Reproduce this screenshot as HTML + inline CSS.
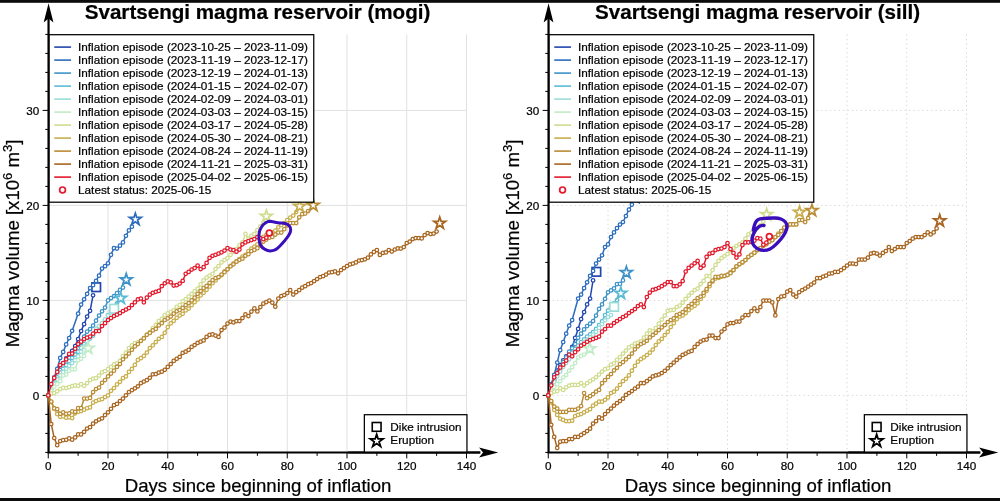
<!DOCTYPE html>
<html lang="en"><head><meta charset="utf-8"><title>Svartsengi magma reservoir</title>
<style>html,body{margin:0;padding:0;background:#fff;}svg{display:block;}text{font-kerning:none;stroke:#000;stroke-width:0.22px;}</style></head>
<body>
<svg width="1000" height="501" viewBox="0 0 1000 501" font-family="'Liberation Sans', sans-serif" fill="#000">
<rect x="0" y="0" width="1000" height="501" fill="#fff"/>
<path d="M108 34.4 V452.5 M167.75 34.4 V452.5 M227.5 34.4 V452.5 M287.25 34.4 V452.5 M347 34.4 V452.5 M406.75 34.4 V452.5 M466.5 34.4 V452.5 M48.25 395.4 H466.5 M48.25 300.4 H466.5 M48.25 205.4 H466.5 M48.25 110.4 H466.5" fill="none" stroke="#e1e1e1" stroke-width="1"/>
<path d="M48.25 452.5 v5.9 M78.12 452.5 v3.4 M108 452.5 v5.9 M137.88 452.5 v3.4 M167.75 452.5 v5.9 M197.62 452.5 v3.4 M227.5 452.5 v5.9 M257.38 452.5 v3.4 M287.25 452.5 v5.9 M317.12 452.5 v3.4 M347 452.5 v5.9 M376.88 452.5 v3.4 M406.75 452.5 v5.9 M436.62 452.5 v3.4 M466.5 452.5 v5.9 M48.85 452.4 h-3.6 M48.85 433.4 h-3.6 M48.85 414.4 h-3.6 M48.85 395.4 h-6.2 M48.85 376.4 h-3.6 M48.85 357.4 h-3.6 M48.85 338.4 h-3.6 M48.85 319.4 h-3.6 M48.85 300.4 h-6.2 M48.85 281.4 h-3.6 M48.85 262.4 h-3.6 M48.85 243.4 h-3.6 M48.85 224.4 h-3.6 M48.85 205.4 h-6.2 M48.85 186.4 h-3.6 M48.85 167.4 h-3.6 M48.85 148.4 h-3.6 M48.85 129.4 h-3.6 M48.85 110.4 h-6.2 M48.85 91.4 h-3.6 M48.85 72.4 h-3.6 M48.85 53.4 h-3.6 M48.85 34.4 h-3.6" fill="none" stroke="#000" stroke-width="1"/>
<path d="M48.55 453.6 V18 M47.45 452.5 H480.25" fill="none" stroke="#000" stroke-width="2.2"/>
<path d="M48.55 3.2 L53.45 22.6 L48.55 18.4 L43.65 22.6 Z" fill="#000"/>
<path d="M498.25 452.5 L479.05 447.5 L483.05 452.5 L479.05 457.5 Z" fill="#000"/>
<g stroke="#2246AF" fill="#fff">
<path d="M48.25 395.4 L51.24 386.85 L54.23 379.25 L57.21 373.55 L60.2 367.85 L63.19 363.1 L66.17 358.35 L69.16 354.55 L72.15 350.75 L75.14 346 L78.12 339.06 L81.11 331.08 L84.1 324.15 L87.09 316.55 L90.07 310.85 L93.06 295.37" fill="none" stroke-width="1.5" stroke-linejoin="round"/>
<g stroke-width="1.25"><circle cx="48.25" cy="395.4" r="1.75"/><circle cx="51.24" cy="386.85" r="1.75"/><circle cx="54.23" cy="379.25" r="1.75"/><circle cx="57.21" cy="373.55" r="1.75"/><circle cx="60.2" cy="367.85" r="1.75"/><circle cx="63.19" cy="363.1" r="1.75"/><circle cx="66.17" cy="358.35" r="1.75"/><circle cx="69.16" cy="354.55" r="1.75"/><circle cx="72.15" cy="350.75" r="1.75"/><circle cx="75.14" cy="346" r="1.75"/><circle cx="78.12" cy="339.06" r="1.75"/><circle cx="81.11" cy="331.08" r="1.75"/><circle cx="84.1" cy="324.15" r="1.75"/><circle cx="87.09" cy="316.55" r="1.75"/><circle cx="90.07" cy="310.85" r="1.75"/><circle cx="93.06" cy="295.37" r="1.75"/></g>
<rect x="91.9" y="282.91" width="8.6" height="8.6" stroke-width="1.7"/>
</g>
<g stroke="#2B6CBD" fill="#fff">
<path d="M48.25 395.4 L51.24 385.9 L54.23 377.35 L57.21 368.99 L60.2 357.97 L63.19 351.98 L66.17 344.38 L69.16 338.02 L72.15 330.8 L78.12 313.7 L81.11 304.58 L84.1 299.26 L87.09 293.75 L90.07 288.05 L93.06 285.2 L96.05 280.92 L99.04 275.7 L102.03 268.57 L105.01 266.2 L108 263.35 L110.99 254.8 L113.97 248.15 L116.96 248.62 L119.95 245.68 L122.94 242.45 L125.92 235.8 L128.91 230.48 L131.9 226.68" fill="none" stroke-width="1.5" stroke-linejoin="round"/>
<g stroke-width="1.25"><circle cx="48.25" cy="395.4" r="1.75"/><circle cx="51.24" cy="385.9" r="1.75"/><circle cx="54.23" cy="377.35" r="1.75"/><circle cx="57.21" cy="368.99" r="1.75"/><circle cx="60.2" cy="357.97" r="1.75"/><circle cx="63.19" cy="351.98" r="1.75"/><circle cx="66.17" cy="344.38" r="1.75"/><circle cx="69.16" cy="338.02" r="1.75"/><circle cx="72.15" cy="330.8" r="1.75"/><circle cx="78.12" cy="313.7" r="1.75"/><circle cx="81.11" cy="304.58" r="1.75"/><circle cx="84.1" cy="299.26" r="1.75"/><circle cx="87.09" cy="293.75" r="1.75"/><circle cx="90.07" cy="288.05" r="1.75"/><circle cx="93.06" cy="285.2" r="1.75"/><circle cx="96.05" cy="280.92" r="1.75"/><circle cx="99.04" cy="275.7" r="1.75"/><circle cx="102.03" cy="268.57" r="1.75"/><circle cx="105.01" cy="266.2" r="1.75"/><circle cx="108" cy="263.35" r="1.75"/><circle cx="110.99" cy="254.8" r="1.75"/><circle cx="113.97" cy="248.15" r="1.75"/><circle cx="116.96" cy="248.62" r="1.75"/><circle cx="119.95" cy="245.68" r="1.75"/><circle cx="122.94" cy="242.45" r="1.75"/><circle cx="125.92" cy="235.8" r="1.75"/><circle cx="128.91" cy="230.48" r="1.75"/><circle cx="131.9" cy="226.68" r="1.75"/></g>
<path d="M135.34 213.2 L136.73 217.48 L141.23 217.48 L137.59 220.13 L138.98 224.42 L135.34 221.77 L131.69 224.42 L133.08 220.13 L129.44 217.48 L133.94 217.48 Z" stroke-width="1.75" stroke-linejoin="miter"/>
</g>
<g stroke="#3E92C8" fill="#fff">
<path d="M48.25 395.4 L51.24 387.8 L54.23 381.15 L57.21 375.45 L60.2 370.22 L63.19 365.95 L66.17 361.67 L69.16 357.88 L72.15 354.55 L75.14 351.22 L78.12 348.28 L81.11 343.15 L84.1 336.5 L87.09 331.56 L90.07 329.09 L93.06 325.57 L96.05 320.73 L99.04 315.6 L102.03 311.32 L105.01 307.52 L108 300.4 L110.99 298.12 L113.97 296.12 L116.96 293.18 L119.95 289.95 L122.94 287.57" fill="none" stroke-width="1.5" stroke-linejoin="round"/>
<g stroke-width="1.25"><circle cx="48.25" cy="395.4" r="1.75"/><circle cx="51.24" cy="387.8" r="1.75"/><circle cx="54.23" cy="381.15" r="1.75"/><circle cx="57.21" cy="375.45" r="1.75"/><circle cx="60.2" cy="370.22" r="1.75"/><circle cx="63.19" cy="365.95" r="1.75"/><circle cx="66.17" cy="361.67" r="1.75"/><circle cx="69.16" cy="357.88" r="1.75"/><circle cx="72.15" cy="354.55" r="1.75"/><circle cx="75.14" cy="351.22" r="1.75"/><circle cx="78.12" cy="348.28" r="1.75"/><circle cx="81.11" cy="343.15" r="1.75"/><circle cx="84.1" cy="336.5" r="1.75"/><circle cx="87.09" cy="331.56" r="1.75"/><circle cx="90.07" cy="329.09" r="1.75"/><circle cx="93.06" cy="325.57" r="1.75"/><circle cx="96.05" cy="320.73" r="1.75"/><circle cx="99.04" cy="315.6" r="1.75"/><circle cx="102.03" cy="311.32" r="1.75"/><circle cx="105.01" cy="307.52" r="1.75"/><circle cx="108" cy="300.4" r="1.75"/><circle cx="110.99" cy="298.12" r="1.75"/><circle cx="113.97" cy="296.12" r="1.75"/><circle cx="116.96" cy="293.18" r="1.75"/><circle cx="119.95" cy="289.95" r="1.75"/><circle cx="122.94" cy="287.57" r="1.75"/></g>
<path d="M126.22 273.52 L127.62 277.81 L132.12 277.81 L128.48 280.46 L129.87 284.74 L126.22 282.09 L122.58 284.74 L123.97 280.46 L120.33 277.81 L124.83 277.81 Z" stroke-width="1.75" stroke-linejoin="miter"/>
</g>
<g stroke="#5BBAD3" fill="#fff">
<path d="M48.25 395.4 L51.24 388.75 L54.23 382.57 L57.21 377.35 L60.2 372.6 L63.19 368.8 L66.17 365 L69.16 361.2 L72.15 357.88 L75.14 354.55 L78.12 351.7 L81.11 347.9 L84.1 344.1 L87.09 341.25 L90.07 338.4 L93.06 335.55 L96.05 330.8 L99.04 327 L102.03 324.15 L105.01 320.06 L108 315.12 L110.99 310.85 L113.97 307.05 L116.96 303.25" fill="none" stroke-width="1.5" stroke-linejoin="round"/>
<g stroke-width="1.25"><circle cx="48.25" cy="395.4" r="1.75"/><circle cx="51.24" cy="388.75" r="1.75"/><circle cx="54.23" cy="382.57" r="1.75"/><circle cx="57.21" cy="377.35" r="1.75"/><circle cx="60.2" cy="372.6" r="1.75"/><circle cx="63.19" cy="368.8" r="1.75"/><circle cx="66.17" cy="365" r="1.75"/><circle cx="69.16" cy="361.2" r="1.75"/><circle cx="72.15" cy="357.88" r="1.75"/><circle cx="75.14" cy="354.55" r="1.75"/><circle cx="78.12" cy="351.7" r="1.75"/><circle cx="81.11" cy="347.9" r="1.75"/><circle cx="84.1" cy="344.1" r="1.75"/><circle cx="87.09" cy="341.25" r="1.75"/><circle cx="90.07" cy="338.4" r="1.75"/><circle cx="93.06" cy="335.55" r="1.75"/><circle cx="96.05" cy="330.8" r="1.75"/><circle cx="99.04" cy="327" r="1.75"/><circle cx="102.03" cy="324.15" r="1.75"/><circle cx="105.01" cy="320.06" r="1.75"/><circle cx="108" cy="315.12" r="1.75"/><circle cx="110.99" cy="310.85" r="1.75"/><circle cx="113.97" cy="307.05" r="1.75"/><circle cx="116.96" cy="303.25" r="1.75"/></g>
<path d="M120.7 292.05 L122.09 296.33 L126.59 296.33 L122.95 298.98 L124.34 303.27 L120.7 300.62 L117.05 303.27 L118.44 298.98 L114.8 296.33 L119.3 296.33 Z" stroke-width="1.75" stroke-linejoin="miter"/>
</g>
<g stroke="#9ADDD9" fill="#fff">
<path d="M48.25 395.4 L51.24 389.7 L54.23 384 L57.21 379.25 L60.2 375.45 L63.19 372.03 L66.17 368.8 L69.16 365.95 L72.15 363.1 L75.14 360.25 L78.12 356.45 L81.11 351.7 L84.1 346.95 L87.09 341.25 L90.07 337.83 L93.06 334.6 L96.05 328.9 L99.04 326.05 L102.03 323.2 L105.01 319.4 L108 315.6 L110.99 312.27" fill="none" stroke-width="1.5" stroke-linejoin="round"/>
<g stroke-width="1.25"><circle cx="48.25" cy="395.4" r="1.75"/><circle cx="51.24" cy="389.7" r="1.75"/><circle cx="54.23" cy="384" r="1.75"/><circle cx="57.21" cy="379.25" r="1.75"/><circle cx="60.2" cy="375.45" r="1.75"/><circle cx="63.19" cy="372.03" r="1.75"/><circle cx="66.17" cy="368.8" r="1.75"/><circle cx="69.16" cy="365.95" r="1.75"/><circle cx="72.15" cy="363.1" r="1.75"/><circle cx="75.14" cy="360.25" r="1.75"/><circle cx="78.12" cy="356.45" r="1.75"/><circle cx="81.11" cy="351.7" r="1.75"/><circle cx="84.1" cy="346.95" r="1.75"/><circle cx="87.09" cy="341.25" r="1.75"/><circle cx="90.07" cy="337.83" r="1.75"/><circle cx="93.06" cy="334.6" r="1.75"/><circle cx="96.05" cy="328.9" r="1.75"/><circle cx="99.04" cy="326.05" r="1.75"/><circle cx="102.03" cy="323.2" r="1.75"/><circle cx="105.01" cy="319.4" r="1.75"/><circle cx="108" cy="315.6" r="1.75"/><circle cx="110.99" cy="312.27" r="1.75"/></g>
<rect x="109.82" y="304.47" width="8.6" height="8.6" stroke-width="1.7"/>
</g>
<g stroke="#C2EBC8" fill="#fff">
<path d="M48.25 395.4 L51.24 390.65 L54.23 386.85 L57.21 384 L60.2 381.15 L63.19 375.45 L66.17 374.5 L69.16 370.7 L72.15 369.27 L75.14 369.27 L78.12 360.25 L81.11 358.82 L84.1 355.97" fill="none" stroke-width="1.5" stroke-linejoin="round"/>
<g stroke-width="1.25"><circle cx="48.25" cy="395.4" r="1.75"/><circle cx="51.24" cy="390.65" r="1.75"/><circle cx="54.23" cy="386.85" r="1.75"/><circle cx="57.21" cy="384" r="1.75"/><circle cx="60.2" cy="381.15" r="1.75"/><circle cx="63.19" cy="375.45" r="1.75"/><circle cx="66.17" cy="374.5" r="1.75"/><circle cx="69.16" cy="370.7" r="1.75"/><circle cx="72.15" cy="369.27" r="1.75"/><circle cx="75.14" cy="369.27" r="1.75"/><circle cx="78.12" cy="360.25" r="1.75"/><circle cx="81.11" cy="358.82" r="1.75"/><circle cx="84.1" cy="355.97" r="1.75"/></g>
<path d="M88.13 342.11 L89.53 346.4 L94.03 346.4 L90.39 349.05 L91.78 353.33 L88.13 350.68 L84.49 353.33 L85.88 349.05 L82.24 346.4 L86.74 346.4 Z" stroke-width="1.75" stroke-linejoin="miter"/>
</g>
<g stroke="#D0DC8F" fill="#fff">
<path d="M48.25 395.4 L51.24 393.5 L54.23 393.12 L57.21 391.31 L60.2 389.03 L63.19 387.8 L66.17 388.08 L69.16 387.23 L72.15 386 L75.14 385.42 L78.12 385.8 L81.11 384.19 L84.1 385.8 L87.09 383.05 L90.07 380.01 L93.06 378.58 L96.05 378.2 L99.04 375.54 L102.03 372.31 L105.01 371.08 L108 369.19 L110.99 366.9 L113.97 364.43 L116.96 363.37 L119.95 360.91 L122.94 356.05 L125.92 352.74 L128.91 348 L131.9 345.32 L134.89 343.15 L137.88 342.3 L140.86 340.96 L143.85 337.88 L146.84 334.54 L149.82 332.03 L152.81 328.14 L155.8 324.78 L158.79 321.01 L161.77 318.82 L164.76 315.03 L167.75 313.37 L170.74 311.8 L173.72 310.43 L176.71 306.8 L179.7 305.15 L182.69 301.3 L185.67 299.07 L188.66 296.53 L191.65 293.92 L194.64 291.38 L197.62 288.52 L200.61 284.31 L203.6 280.39 L206.59 277.66 L209.57 275.51 L212.56 273.8 L215.55 269.05 L218.54 266.2 L221.52 262.4 L224.51 260.02 L227.5 258.12 L230.49 254.8 L233.47 251.95 L236.46 249.1 L239.45 245.3 L242.44 242.45 L245.42 233.9 L248.41 238.65 L251.4 235.8 L254.39 233.9 L257.38 230.1 L260.36 226.3 L263.35 222.5" fill="none" stroke-width="1.5" stroke-linejoin="round"/>
<g stroke-width="1.25"><circle cx="48.25" cy="395.4" r="1.75"/><circle cx="51.24" cy="393.5" r="1.75"/><circle cx="54.23" cy="393.12" r="1.75"/><circle cx="57.21" cy="391.31" r="1.75"/><circle cx="60.2" cy="389.03" r="1.75"/><circle cx="63.19" cy="387.8" r="1.75"/><circle cx="66.17" cy="388.08" r="1.75"/><circle cx="69.16" cy="387.23" r="1.75"/><circle cx="72.15" cy="386" r="1.75"/><circle cx="75.14" cy="385.42" r="1.75"/><circle cx="78.12" cy="385.8" r="1.75"/><circle cx="81.11" cy="384.19" r="1.75"/><circle cx="84.1" cy="385.8" r="1.75"/><circle cx="87.09" cy="383.05" r="1.75"/><circle cx="90.07" cy="380.01" r="1.75"/><circle cx="93.06" cy="378.58" r="1.75"/><circle cx="96.05" cy="378.2" r="1.75"/><circle cx="99.04" cy="375.54" r="1.75"/><circle cx="102.03" cy="372.31" r="1.75"/><circle cx="105.01" cy="371.08" r="1.75"/><circle cx="108" cy="369.19" r="1.75"/><circle cx="110.99" cy="366.9" r="1.75"/><circle cx="113.97" cy="364.43" r="1.75"/><circle cx="116.96" cy="363.37" r="1.75"/><circle cx="119.95" cy="360.91" r="1.75"/><circle cx="122.94" cy="356.05" r="1.75"/><circle cx="125.92" cy="352.74" r="1.75"/><circle cx="128.91" cy="348" r="1.75"/><circle cx="131.9" cy="345.32" r="1.75"/><circle cx="134.89" cy="343.15" r="1.75"/><circle cx="137.88" cy="342.3" r="1.75"/><circle cx="140.86" cy="340.96" r="1.75"/><circle cx="143.85" cy="337.88" r="1.75"/><circle cx="146.84" cy="334.54" r="1.75"/><circle cx="149.82" cy="332.03" r="1.75"/><circle cx="152.81" cy="328.14" r="1.75"/><circle cx="155.8" cy="324.78" r="1.75"/><circle cx="158.79" cy="321.01" r="1.75"/><circle cx="161.77" cy="318.82" r="1.75"/><circle cx="164.76" cy="315.03" r="1.75"/><circle cx="167.75" cy="313.37" r="1.75"/><circle cx="170.74" cy="311.8" r="1.75"/><circle cx="173.72" cy="310.43" r="1.75"/><circle cx="176.71" cy="306.8" r="1.75"/><circle cx="179.7" cy="305.15" r="1.75"/><circle cx="182.69" cy="301.3" r="1.75"/><circle cx="185.67" cy="299.07" r="1.75"/><circle cx="188.66" cy="296.53" r="1.75"/><circle cx="191.65" cy="293.92" r="1.75"/><circle cx="194.64" cy="291.38" r="1.75"/><circle cx="197.62" cy="288.52" r="1.75"/><circle cx="200.61" cy="284.31" r="1.75"/><circle cx="203.6" cy="280.39" r="1.75"/><circle cx="206.59" cy="277.66" r="1.75"/><circle cx="209.57" cy="275.51" r="1.75"/><circle cx="212.56" cy="273.8" r="1.75"/><circle cx="215.55" cy="269.05" r="1.75"/><circle cx="218.54" cy="266.2" r="1.75"/><circle cx="221.52" cy="262.4" r="1.75"/><circle cx="224.51" cy="260.02" r="1.75"/><circle cx="227.5" cy="258.12" r="1.75"/><circle cx="230.49" cy="254.8" r="1.75"/><circle cx="233.47" cy="251.95" r="1.75"/><circle cx="236.46" cy="249.1" r="1.75"/><circle cx="239.45" cy="245.3" r="1.75"/><circle cx="242.44" cy="242.45" r="1.75"/><circle cx="245.42" cy="233.9" r="1.75"/><circle cx="248.41" cy="238.65" r="1.75"/><circle cx="251.4" cy="235.8" r="1.75"/><circle cx="254.39" cy="233.9" r="1.75"/><circle cx="257.38" cy="230.1" r="1.75"/><circle cx="260.36" cy="226.3" r="1.75"/><circle cx="263.35" cy="222.5" r="1.75"/></g>
<path d="M266.34 210.06 L267.73 214.35 L272.23 214.35 L268.59 217 L269.98 221.28 L266.34 218.63 L262.69 221.28 L264.09 217 L260.44 214.35 L264.95 214.35 Z" stroke-width="1.75" stroke-linejoin="miter"/>
</g>
<g stroke="#C8AE4D" fill="#fff">
<path d="M48.25 395.4 L51.24 402.05 L54.23 408.7 L57.21 414.11 L60.2 416.87 L63.19 416.49 L66.17 417.72 L69.16 417.25 L72.15 418.1 L75.14 413.26 L78.12 411.83 L81.11 411.07 L84.1 409.65 L87.09 408.22 L90.07 407.46 L93.06 402.52 L96.05 401 L99.04 399.77 L102.03 399.2 L105.01 397.11 L108 395.4 L110.99 390.84 L113.97 388.08 L116.96 384.47 L119.95 381.81 L122.94 378.2 L125.92 376.4 L128.91 371.93 L131.9 368.89 L134.89 364.99 L137.88 359.96 L140.86 358.22 L143.85 355.97 L146.84 352.51 L149.82 348 L152.81 345.33 L155.8 342.01 L158.79 338.82 L161.77 336.97 L164.76 332.81 L167.75 327 L170.74 323.42 L173.72 320.82 L176.71 317.87 L179.7 315.6 L182.69 313.79 L185.67 310.38 L188.66 308.56 L191.65 305.15 L194.64 302.2 L197.62 299.45 L200.61 295.44 L203.6 292.8 L206.59 289.85 L209.57 286.62 L212.56 283.15 L215.55 280.45 L218.54 277.27 L221.52 275.22 L224.51 271.3 L227.5 269.05 L230.49 265.96 L233.47 263.35 L236.46 261.43 L239.45 259.07 L242.44 256.51 L245.42 254.8 L248.41 251.09 L251.4 248.7 L254.39 246.63 L257.38 244.35 L260.36 240.6 L263.35 236.75 L266.34 234.75 L269.32 233.9 L272.31 232.37 L275.3 230.57 L278.29 227.25 L281.27 224.91 L284.26 223.07 L287.25 220.03 L290.24 217.56 L293.23 215.56 L296.21 212.05" fill="none" stroke-width="1.5" stroke-linejoin="round"/>
<g stroke-width="1.25"><circle cx="48.25" cy="395.4" r="1.75"/><circle cx="51.24" cy="402.05" r="1.75"/><circle cx="54.23" cy="408.7" r="1.75"/><circle cx="57.21" cy="414.11" r="1.75"/><circle cx="60.2" cy="416.87" r="1.75"/><circle cx="63.19" cy="416.49" r="1.75"/><circle cx="66.17" cy="417.72" r="1.75"/><circle cx="69.16" cy="417.25" r="1.75"/><circle cx="72.15" cy="418.1" r="1.75"/><circle cx="75.14" cy="413.26" r="1.75"/><circle cx="78.12" cy="411.83" r="1.75"/><circle cx="81.11" cy="411.07" r="1.75"/><circle cx="84.1" cy="409.65" r="1.75"/><circle cx="87.09" cy="408.22" r="1.75"/><circle cx="90.07" cy="407.46" r="1.75"/><circle cx="93.06" cy="402.52" r="1.75"/><circle cx="96.05" cy="401" r="1.75"/><circle cx="99.04" cy="399.77" r="1.75"/><circle cx="102.03" cy="399.2" r="1.75"/><circle cx="105.01" cy="397.11" r="1.75"/><circle cx="108" cy="395.4" r="1.75"/><circle cx="110.99" cy="390.84" r="1.75"/><circle cx="113.97" cy="388.08" r="1.75"/><circle cx="116.96" cy="384.47" r="1.75"/><circle cx="119.95" cy="381.81" r="1.75"/><circle cx="122.94" cy="378.2" r="1.75"/><circle cx="125.92" cy="376.4" r="1.75"/><circle cx="128.91" cy="371.93" r="1.75"/><circle cx="131.9" cy="368.89" r="1.75"/><circle cx="134.89" cy="364.99" r="1.75"/><circle cx="137.88" cy="359.96" r="1.75"/><circle cx="140.86" cy="358.22" r="1.75"/><circle cx="143.85" cy="355.97" r="1.75"/><circle cx="146.84" cy="352.51" r="1.75"/><circle cx="149.82" cy="348" r="1.75"/><circle cx="152.81" cy="345.33" r="1.75"/><circle cx="155.8" cy="342.01" r="1.75"/><circle cx="158.79" cy="338.82" r="1.75"/><circle cx="161.77" cy="336.97" r="1.75"/><circle cx="164.76" cy="332.81" r="1.75"/><circle cx="167.75" cy="327" r="1.75"/><circle cx="170.74" cy="323.42" r="1.75"/><circle cx="173.72" cy="320.82" r="1.75"/><circle cx="176.71" cy="317.87" r="1.75"/><circle cx="179.7" cy="315.6" r="1.75"/><circle cx="182.69" cy="313.79" r="1.75"/><circle cx="185.67" cy="310.38" r="1.75"/><circle cx="188.66" cy="308.56" r="1.75"/><circle cx="191.65" cy="305.15" r="1.75"/><circle cx="194.64" cy="302.2" r="1.75"/><circle cx="197.62" cy="299.45" r="1.75"/><circle cx="200.61" cy="295.44" r="1.75"/><circle cx="203.6" cy="292.8" r="1.75"/><circle cx="206.59" cy="289.85" r="1.75"/><circle cx="209.57" cy="286.62" r="1.75"/><circle cx="212.56" cy="283.15" r="1.75"/><circle cx="215.55" cy="280.45" r="1.75"/><circle cx="218.54" cy="277.27" r="1.75"/><circle cx="221.52" cy="275.22" r="1.75"/><circle cx="224.51" cy="271.3" r="1.75"/><circle cx="227.5" cy="269.05" r="1.75"/><circle cx="230.49" cy="265.96" r="1.75"/><circle cx="233.47" cy="263.35" r="1.75"/><circle cx="236.46" cy="261.43" r="1.75"/><circle cx="239.45" cy="259.07" r="1.75"/><circle cx="242.44" cy="256.51" r="1.75"/><circle cx="245.42" cy="254.8" r="1.75"/><circle cx="248.41" cy="251.09" r="1.75"/><circle cx="251.4" cy="248.7" r="1.75"/><circle cx="254.39" cy="246.63" r="1.75"/><circle cx="257.38" cy="244.35" r="1.75"/><circle cx="260.36" cy="240.6" r="1.75"/><circle cx="263.35" cy="236.75" r="1.75"/><circle cx="266.34" cy="234.75" r="1.75"/><circle cx="269.32" cy="233.9" r="1.75"/><circle cx="272.31" cy="232.37" r="1.75"/><circle cx="275.3" cy="230.57" r="1.75"/><circle cx="278.29" cy="227.25" r="1.75"/><circle cx="281.27" cy="224.91" r="1.75"/><circle cx="284.26" cy="223.07" r="1.75"/><circle cx="287.25" cy="220.03" r="1.75"/><circle cx="290.24" cy="217.56" r="1.75"/><circle cx="293.23" cy="215.56" r="1.75"/><circle cx="296.21" cy="212.05" r="1.75"/></g>
<path d="M299.65 200.19 L301.04 204.47 L305.54 204.47 L301.9 207.12 L303.29 211.4 L299.65 208.75 L296 211.4 L297.4 207.12 L293.75 204.47 L298.26 204.47 Z" stroke-width="1.75" stroke-linejoin="miter"/>
</g>
<g stroke="#B98C36" fill="#fff">
<path d="M48.25 395.4 L51.24 401.57 L54.23 408.41 L57.21 409.08 L60.2 413.83 L63.19 412.31 L66.17 413.83 L69.16 413.26 L72.15 411.45 L75.14 411.83 L78.12 408.22 L81.11 408.22 L84.1 398.53 L87.09 398.53 L90.07 397.96 L93.06 392.07 L96.05 389.03 L99.04 387.61 L102.03 382.76 L105.01 380.01 L108 376.4 L110.99 373.55 L113.97 370.7 L116.96 366.9 L119.95 364.1 L122.94 359.32 L125.92 356.45 L128.91 353.55 L131.9 349.8 L134.89 346.44 L137.88 344.1 L140.86 340.78 L143.85 338.4 L146.84 334.87 L149.82 332.98 L152.81 330.41 L155.8 328.9 L158.79 325.42 L161.77 323.2 L164.76 320.02 L167.75 318.45 L170.74 316.55 L173.72 313.7 L176.71 311.34 L179.7 310.09 L182.69 307.92 L185.67 305.15 L188.66 303.1 L191.65 300.4 L194.64 297.71 L197.62 293.75 L200.61 291.04 L203.6 288.05 L206.59 285.99 L209.57 282.82 L212.56 280.16 L215.55 278.07 L218.54 277.04 L221.52 274.56 L224.51 272.13 L227.5 269.33 L230.49 266.32 L233.47 264.3 L236.46 261.67 L239.45 259.83 L242.44 258.64 L245.42 255.75 L248.41 254.14 L251.4 251.09 L254.39 249.9 L257.38 248.15 L260.36 245.58 L263.35 241.5 L266.34 239.51 L269.32 237.7 L272.31 236.91 L275.3 234.56 L278.29 232.57 L281.27 232.57 L284.26 229.15 L287.25 225.35 L290.24 223.07 L293.23 223.07 L296.21 223.07 L299.2 217.27 L302.19 214.14 L305.18 213.57 L308.16 211.1" fill="none" stroke-width="1.5" stroke-linejoin="round"/>
<g stroke-width="1.25"><circle cx="48.25" cy="395.4" r="1.75"/><circle cx="51.24" cy="401.57" r="1.75"/><circle cx="54.23" cy="408.41" r="1.75"/><circle cx="57.21" cy="409.08" r="1.75"/><circle cx="60.2" cy="413.83" r="1.75"/><circle cx="63.19" cy="412.31" r="1.75"/><circle cx="66.17" cy="413.83" r="1.75"/><circle cx="69.16" cy="413.26" r="1.75"/><circle cx="72.15" cy="411.45" r="1.75"/><circle cx="75.14" cy="411.83" r="1.75"/><circle cx="78.12" cy="408.22" r="1.75"/><circle cx="81.11" cy="408.22" r="1.75"/><circle cx="84.1" cy="398.53" r="1.75"/><circle cx="87.09" cy="398.53" r="1.75"/><circle cx="90.07" cy="397.96" r="1.75"/><circle cx="93.06" cy="392.07" r="1.75"/><circle cx="96.05" cy="389.03" r="1.75"/><circle cx="99.04" cy="387.61" r="1.75"/><circle cx="102.03" cy="382.76" r="1.75"/><circle cx="105.01" cy="380.01" r="1.75"/><circle cx="108" cy="376.4" r="1.75"/><circle cx="110.99" cy="373.55" r="1.75"/><circle cx="113.97" cy="370.7" r="1.75"/><circle cx="116.96" cy="366.9" r="1.75"/><circle cx="119.95" cy="364.1" r="1.75"/><circle cx="122.94" cy="359.32" r="1.75"/><circle cx="125.92" cy="356.45" r="1.75"/><circle cx="128.91" cy="353.55" r="1.75"/><circle cx="131.9" cy="349.8" r="1.75"/><circle cx="134.89" cy="346.44" r="1.75"/><circle cx="137.88" cy="344.1" r="1.75"/><circle cx="140.86" cy="340.78" r="1.75"/><circle cx="143.85" cy="338.4" r="1.75"/><circle cx="146.84" cy="334.87" r="1.75"/><circle cx="149.82" cy="332.98" r="1.75"/><circle cx="152.81" cy="330.41" r="1.75"/><circle cx="155.8" cy="328.9" r="1.75"/><circle cx="158.79" cy="325.42" r="1.75"/><circle cx="161.77" cy="323.2" r="1.75"/><circle cx="164.76" cy="320.02" r="1.75"/><circle cx="167.75" cy="318.45" r="1.75"/><circle cx="170.74" cy="316.55" r="1.75"/><circle cx="173.72" cy="313.7" r="1.75"/><circle cx="176.71" cy="311.34" r="1.75"/><circle cx="179.7" cy="310.09" r="1.75"/><circle cx="182.69" cy="307.92" r="1.75"/><circle cx="185.67" cy="305.15" r="1.75"/><circle cx="188.66" cy="303.1" r="1.75"/><circle cx="191.65" cy="300.4" r="1.75"/><circle cx="194.64" cy="297.71" r="1.75"/><circle cx="197.62" cy="293.75" r="1.75"/><circle cx="200.61" cy="291.04" r="1.75"/><circle cx="203.6" cy="288.05" r="1.75"/><circle cx="206.59" cy="285.99" r="1.75"/><circle cx="209.57" cy="282.82" r="1.75"/><circle cx="212.56" cy="280.16" r="1.75"/><circle cx="215.55" cy="278.07" r="1.75"/><circle cx="218.54" cy="277.04" r="1.75"/><circle cx="221.52" cy="274.56" r="1.75"/><circle cx="224.51" cy="272.13" r="1.75"/><circle cx="227.5" cy="269.33" r="1.75"/><circle cx="230.49" cy="266.32" r="1.75"/><circle cx="233.47" cy="264.3" r="1.75"/><circle cx="236.46" cy="261.67" r="1.75"/><circle cx="239.45" cy="259.83" r="1.75"/><circle cx="242.44" cy="258.64" r="1.75"/><circle cx="245.42" cy="255.75" r="1.75"/><circle cx="248.41" cy="254.14" r="1.75"/><circle cx="251.4" cy="251.09" r="1.75"/><circle cx="254.39" cy="249.9" r="1.75"/><circle cx="257.38" cy="248.15" r="1.75"/><circle cx="260.36" cy="245.58" r="1.75"/><circle cx="263.35" cy="241.5" r="1.75"/><circle cx="266.34" cy="239.51" r="1.75"/><circle cx="269.32" cy="237.7" r="1.75"/><circle cx="272.31" cy="236.91" r="1.75"/><circle cx="275.3" cy="234.56" r="1.75"/><circle cx="278.29" cy="232.57" r="1.75"/><circle cx="281.27" cy="232.57" r="1.75"/><circle cx="284.26" cy="229.15" r="1.75"/><circle cx="287.25" cy="225.35" r="1.75"/><circle cx="290.24" cy="223.07" r="1.75"/><circle cx="293.23" cy="223.07" r="1.75"/><circle cx="296.21" cy="223.07" r="1.75"/><circle cx="299.2" cy="217.27" r="1.75"/><circle cx="302.19" cy="214.14" r="1.75"/><circle cx="305.18" cy="213.57" r="1.75"/><circle cx="308.16" cy="211.1" r="1.75"/></g>
<path d="M313.24 199.14 L314.63 203.42 L319.14 203.42 L315.49 206.07 L316.89 210.36 L313.24 207.71 L309.6 210.36 L310.99 206.07 L307.34 203.42 L311.85 203.42 Z" stroke-width="1.75" stroke-linejoin="miter"/>
</g>
<g stroke="#A8651F" fill="#fff">
<path d="M48.25 395.4 L51.24 424 L54.23 438.05 L57.21 445.18 L60.2 441.09 L63.19 440.14 L66.17 439.86 L69.16 438.44 L72.15 439.67 L75.14 437.48 L78.12 434.44 L81.11 434.44 L84.1 431.78 L87.09 428.55 L90.07 427.22 L93.06 423.71 L96.05 421.33 L99.04 419.53 L102.03 418.29 L105.01 415.06 L108 412.31 L110.99 408.79 L113.97 405.19 L116.96 403.95 L119.95 401 L122.94 398.53 L125.92 395.3 L128.91 392.07 L131.9 390.17 L134.89 388.27 L137.88 386.28 L140.86 383.24 L143.85 381.62 L146.84 380.2 L149.82 377.82 L152.81 374.31 L155.8 374.02 L158.79 372.6 L161.77 371.65 L164.76 369.75 L167.75 366.9 L170.74 364.05 L173.72 360.91 L176.71 358.82 L179.7 356.92 L182.69 352.94 L185.67 351.7 L188.66 349.99 L191.65 346.95 L194.64 345.05 L197.62 342.96 L200.61 341.72 L203.6 340.39 L206.59 336.97 L209.57 334.98 L212.56 334.41 L215.55 335.55 L218.54 336.97 L221.52 330.04 L224.51 327.57 L227.5 323.58 L230.49 321.58 L233.47 322.44 L236.46 321.01 L239.45 321.01 L242.44 318.07 L245.42 314.46 L248.41 316.07 L251.4 311.61 L254.39 308.47 L257.38 311.42 L260.36 307.05 L263.35 303.63 L266.34 302.11 L269.32 300.5 L272.31 302.68 L275.3 306.67 L278.29 298.5 L281.27 296.12 L284.26 295.08 L287.25 293.08 L290.24 290.14 L293.23 294.51 L296.21 292.13 L299.2 290.14 L302.19 287.67 L305.18 286.15 L308.16 284.15 L311.15 283.11 L314.14 281.12 L317.12 279.12 L320.11 277.12 L323.1 276.17 L326.09 274.56 L329.07 272.56 L332.06 272.18 L335.05 271.42 L338.04 273.32 L341.02 270 L344.01 268 L347 266.01 L349.99 264.39 L352.97 263.54 L355.96 262.4 L358.95 260.59 L361.94 260.02 L364.92 259.36 L367.91 257.65 L370.9 254.42 L373.89 251.95 L376.88 250.05 L379.86 254.99 L382.85 252.99 L385.84 252.42 L388.82 250.05 L391.81 251.57 L394.8 249.57 L397.79 248.43 L400.77 248.62 L403.76 247.01 L406.75 243.02 L409.74 241.59 L412.72 239.03 L415.71 238.08 L418.7 238.08 L421.69 238.46 L424.67 235.04 L427.66 233.04 L430.65 234.09 L433.64 233.61 L436.62 231.62" fill="none" stroke-width="1.5" stroke-linejoin="round"/>
<g stroke-width="1.25"><circle cx="48.25" cy="395.4" r="1.75"/><circle cx="51.24" cy="424" r="1.75"/><circle cx="54.23" cy="438.05" r="1.75"/><circle cx="57.21" cy="445.18" r="1.75"/><circle cx="60.2" cy="441.09" r="1.75"/><circle cx="63.19" cy="440.14" r="1.75"/><circle cx="66.17" cy="439.86" r="1.75"/><circle cx="69.16" cy="438.44" r="1.75"/><circle cx="72.15" cy="439.67" r="1.75"/><circle cx="75.14" cy="437.48" r="1.75"/><circle cx="78.12" cy="434.44" r="1.75"/><circle cx="81.11" cy="434.44" r="1.75"/><circle cx="84.1" cy="431.78" r="1.75"/><circle cx="87.09" cy="428.55" r="1.75"/><circle cx="90.07" cy="427.22" r="1.75"/><circle cx="93.06" cy="423.71" r="1.75"/><circle cx="96.05" cy="421.33" r="1.75"/><circle cx="99.04" cy="419.53" r="1.75"/><circle cx="102.03" cy="418.29" r="1.75"/><circle cx="105.01" cy="415.06" r="1.75"/><circle cx="108" cy="412.31" r="1.75"/><circle cx="110.99" cy="408.79" r="1.75"/><circle cx="113.97" cy="405.19" r="1.75"/><circle cx="116.96" cy="403.95" r="1.75"/><circle cx="119.95" cy="401" r="1.75"/><circle cx="122.94" cy="398.53" r="1.75"/><circle cx="125.92" cy="395.3" r="1.75"/><circle cx="128.91" cy="392.07" r="1.75"/><circle cx="131.9" cy="390.17" r="1.75"/><circle cx="134.89" cy="388.27" r="1.75"/><circle cx="137.88" cy="386.28" r="1.75"/><circle cx="140.86" cy="383.24" r="1.75"/><circle cx="143.85" cy="381.62" r="1.75"/><circle cx="146.84" cy="380.2" r="1.75"/><circle cx="149.82" cy="377.82" r="1.75"/><circle cx="152.81" cy="374.31" r="1.75"/><circle cx="155.8" cy="374.02" r="1.75"/><circle cx="158.79" cy="372.6" r="1.75"/><circle cx="161.77" cy="371.65" r="1.75"/><circle cx="164.76" cy="369.75" r="1.75"/><circle cx="167.75" cy="366.9" r="1.75"/><circle cx="170.74" cy="364.05" r="1.75"/><circle cx="173.72" cy="360.91" r="1.75"/><circle cx="176.71" cy="358.82" r="1.75"/><circle cx="179.7" cy="356.92" r="1.75"/><circle cx="182.69" cy="352.94" r="1.75"/><circle cx="185.67" cy="351.7" r="1.75"/><circle cx="188.66" cy="349.99" r="1.75"/><circle cx="191.65" cy="346.95" r="1.75"/><circle cx="194.64" cy="345.05" r="1.75"/><circle cx="197.62" cy="342.96" r="1.75"/><circle cx="200.61" cy="341.72" r="1.75"/><circle cx="203.6" cy="340.39" r="1.75"/><circle cx="206.59" cy="336.97" r="1.75"/><circle cx="209.57" cy="334.98" r="1.75"/><circle cx="212.56" cy="334.41" r="1.75"/><circle cx="215.55" cy="335.55" r="1.75"/><circle cx="218.54" cy="336.97" r="1.75"/><circle cx="221.52" cy="330.04" r="1.75"/><circle cx="224.51" cy="327.57" r="1.75"/><circle cx="227.5" cy="323.58" r="1.75"/><circle cx="230.49" cy="321.58" r="1.75"/><circle cx="233.47" cy="322.44" r="1.75"/><circle cx="236.46" cy="321.01" r="1.75"/><circle cx="239.45" cy="321.01" r="1.75"/><circle cx="242.44" cy="318.07" r="1.75"/><circle cx="245.42" cy="314.46" r="1.75"/><circle cx="248.41" cy="316.07" r="1.75"/><circle cx="251.4" cy="311.61" r="1.75"/><circle cx="254.39" cy="308.47" r="1.75"/><circle cx="257.38" cy="311.42" r="1.75"/><circle cx="260.36" cy="307.05" r="1.75"/><circle cx="263.35" cy="303.63" r="1.75"/><circle cx="266.34" cy="302.11" r="1.75"/><circle cx="269.32" cy="300.5" r="1.75"/><circle cx="272.31" cy="302.68" r="1.75"/><circle cx="275.3" cy="306.67" r="1.75"/><circle cx="278.29" cy="298.5" r="1.75"/><circle cx="281.27" cy="296.12" r="1.75"/><circle cx="284.26" cy="295.08" r="1.75"/><circle cx="287.25" cy="293.08" r="1.75"/><circle cx="290.24" cy="290.14" r="1.75"/><circle cx="293.23" cy="294.51" r="1.75"/><circle cx="296.21" cy="292.13" r="1.75"/><circle cx="299.2" cy="290.14" r="1.75"/><circle cx="302.19" cy="287.67" r="1.75"/><circle cx="305.18" cy="286.15" r="1.75"/><circle cx="308.16" cy="284.15" r="1.75"/><circle cx="311.15" cy="283.11" r="1.75"/><circle cx="314.14" cy="281.12" r="1.75"/><circle cx="317.12" cy="279.12" r="1.75"/><circle cx="320.11" cy="277.12" r="1.75"/><circle cx="323.1" cy="276.17" r="1.75"/><circle cx="326.09" cy="274.56" r="1.75"/><circle cx="329.07" cy="272.56" r="1.75"/><circle cx="332.06" cy="272.18" r="1.75"/><circle cx="335.05" cy="271.42" r="1.75"/><circle cx="338.04" cy="273.32" r="1.75"/><circle cx="341.02" cy="270" r="1.75"/><circle cx="344.01" cy="268" r="1.75"/><circle cx="347" cy="266.01" r="1.75"/><circle cx="349.99" cy="264.39" r="1.75"/><circle cx="352.97" cy="263.54" r="1.75"/><circle cx="355.96" cy="262.4" r="1.75"/><circle cx="358.95" cy="260.59" r="1.75"/><circle cx="361.94" cy="260.02" r="1.75"/><circle cx="364.92" cy="259.36" r="1.75"/><circle cx="367.91" cy="257.65" r="1.75"/><circle cx="370.9" cy="254.42" r="1.75"/><circle cx="373.89" cy="251.95" r="1.75"/><circle cx="376.88" cy="250.05" r="1.75"/><circle cx="379.86" cy="254.99" r="1.75"/><circle cx="382.85" cy="252.99" r="1.75"/><circle cx="385.84" cy="252.42" r="1.75"/><circle cx="388.82" cy="250.05" r="1.75"/><circle cx="391.81" cy="251.57" r="1.75"/><circle cx="394.8" cy="249.57" r="1.75"/><circle cx="397.79" cy="248.43" r="1.75"/><circle cx="400.77" cy="248.62" r="1.75"/><circle cx="403.76" cy="247.01" r="1.75"/><circle cx="406.75" cy="243.02" r="1.75"/><circle cx="409.74" cy="241.59" r="1.75"/><circle cx="412.72" cy="239.03" r="1.75"/><circle cx="415.71" cy="238.08" r="1.75"/><circle cx="418.7" cy="238.08" r="1.75"/><circle cx="421.69" cy="238.46" r="1.75"/><circle cx="424.67" cy="235.04" r="1.75"/><circle cx="427.66" cy="233.04" r="1.75"/><circle cx="430.65" cy="234.09" r="1.75"/><circle cx="433.64" cy="233.61" r="1.75"/><circle cx="436.62" cy="231.62" r="1.75"/></g>
<path d="M439.73 217 L441.12 221.28 L445.63 221.28 L441.98 223.93 L443.38 228.22 L439.73 225.57 L436.09 228.22 L437.48 223.93 L433.84 221.28 L438.34 221.28 Z" stroke-width="1.75" stroke-linejoin="miter"/>
</g>
<g stroke="#E3192C" fill="#fff">
<path d="M48.25 395.4 L51.24 384 L54.23 377.92 L57.21 371.93 L60.2 365 L63.19 363.1 L66.17 359.3 L69.16 353.98 L72.15 353.6 L75.14 348.85 L78.12 344.1 L81.11 341.63 L84.1 339.06 L87.09 337.64 L90.07 336.5 L93.06 333.65 L96.05 331.08 L99.04 331.08 L102.03 326.05 L105.01 323.2 L108 320.06 L110.99 318.07 L113.97 316.07 L116.96 314.65 L119.95 313.13 L122.94 311.13 L125.92 309.52 L128.91 308 L131.9 305.15 L134.89 302.3 L137.88 299.45 L140.86 298.5 L143.85 302.3 L146.84 297.55 L149.82 294.7 L152.81 292.8 L155.8 291.85 L158.79 290.9 L161.77 286.15 L164.76 283.3 L167.75 281.4 L170.74 282.35 L173.72 285.58 L176.71 285.2 L179.7 283.58 L182.69 280.92 L185.67 273.8 L188.66 271.9 L191.65 269.52 L194.64 268.1 L197.62 265.53 L200.61 269.05 L203.6 267.15 L206.59 262.97 L209.57 257.93 L212.56 255.75 L215.55 254.8 L218.54 253.56 L221.52 252.33 L224.51 250.62 L227.5 248.15 L230.49 249.57 L233.47 250.05 L236.46 251.66 L239.45 249.57 L242.44 244.35 L245.42 242.45 L248.41 241.02 L251.4 240.07 L254.39 239.03 L257.38 237.03 L260.36 238.08 L263.35 239.03 L266.34 237.7 L269.32 233.04" fill="none" stroke-width="1.5" stroke-linejoin="round"/>
<g stroke-width="1.25"><circle cx="48.25" cy="395.4" r="1.75"/><circle cx="51.24" cy="384" r="1.75"/><circle cx="54.23" cy="377.92" r="1.75"/><circle cx="57.21" cy="371.93" r="1.75"/><circle cx="60.2" cy="365" r="1.75"/><circle cx="63.19" cy="363.1" r="1.75"/><circle cx="66.17" cy="359.3" r="1.75"/><circle cx="69.16" cy="353.98" r="1.75"/><circle cx="72.15" cy="353.6" r="1.75"/><circle cx="75.14" cy="348.85" r="1.75"/><circle cx="78.12" cy="344.1" r="1.75"/><circle cx="81.11" cy="341.63" r="1.75"/><circle cx="84.1" cy="339.06" r="1.75"/><circle cx="87.09" cy="337.64" r="1.75"/><circle cx="90.07" cy="336.5" r="1.75"/><circle cx="93.06" cy="333.65" r="1.75"/><circle cx="96.05" cy="331.08" r="1.75"/><circle cx="99.04" cy="331.08" r="1.75"/><circle cx="102.03" cy="326.05" r="1.75"/><circle cx="105.01" cy="323.2" r="1.75"/><circle cx="108" cy="320.06" r="1.75"/><circle cx="110.99" cy="318.07" r="1.75"/><circle cx="113.97" cy="316.07" r="1.75"/><circle cx="116.96" cy="314.65" r="1.75"/><circle cx="119.95" cy="313.13" r="1.75"/><circle cx="122.94" cy="311.13" r="1.75"/><circle cx="125.92" cy="309.52" r="1.75"/><circle cx="128.91" cy="308" r="1.75"/><circle cx="131.9" cy="305.15" r="1.75"/><circle cx="134.89" cy="302.3" r="1.75"/><circle cx="137.88" cy="299.45" r="1.75"/><circle cx="140.86" cy="298.5" r="1.75"/><circle cx="143.85" cy="302.3" r="1.75"/><circle cx="146.84" cy="297.55" r="1.75"/><circle cx="149.82" cy="294.7" r="1.75"/><circle cx="152.81" cy="292.8" r="1.75"/><circle cx="155.8" cy="291.85" r="1.75"/><circle cx="158.79" cy="290.9" r="1.75"/><circle cx="161.77" cy="286.15" r="1.75"/><circle cx="164.76" cy="283.3" r="1.75"/><circle cx="167.75" cy="281.4" r="1.75"/><circle cx="170.74" cy="282.35" r="1.75"/><circle cx="173.72" cy="285.58" r="1.75"/><circle cx="176.71" cy="285.2" r="1.75"/><circle cx="179.7" cy="283.58" r="1.75"/><circle cx="182.69" cy="280.92" r="1.75"/><circle cx="185.67" cy="273.8" r="1.75"/><circle cx="188.66" cy="271.9" r="1.75"/><circle cx="191.65" cy="269.52" r="1.75"/><circle cx="194.64" cy="268.1" r="1.75"/><circle cx="197.62" cy="265.53" r="1.75"/><circle cx="200.61" cy="269.05" r="1.75"/><circle cx="203.6" cy="267.15" r="1.75"/><circle cx="206.59" cy="262.97" r="1.75"/><circle cx="209.57" cy="257.93" r="1.75"/><circle cx="212.56" cy="255.75" r="1.75"/><circle cx="215.55" cy="254.8" r="1.75"/><circle cx="218.54" cy="253.56" r="1.75"/><circle cx="221.52" cy="252.33" r="1.75"/><circle cx="224.51" cy="250.62" r="1.75"/><circle cx="227.5" cy="248.15" r="1.75"/><circle cx="230.49" cy="249.57" r="1.75"/><circle cx="233.47" cy="250.05" r="1.75"/><circle cx="236.46" cy="251.66" r="1.75"/><circle cx="239.45" cy="249.57" r="1.75"/><circle cx="242.44" cy="244.35" r="1.75"/><circle cx="245.42" cy="242.45" r="1.75"/><circle cx="248.41" cy="241.02" r="1.75"/><circle cx="251.4" cy="240.07" r="1.75"/><circle cx="254.39" cy="239.03" r="1.75"/><circle cx="257.38" cy="237.03" r="1.75"/><circle cx="260.36" cy="238.08" r="1.75"/><circle cx="263.35" cy="239.03" r="1.75"/><circle cx="266.34" cy="237.7" r="1.75"/><circle cx="269.32" cy="233.04" r="1.75"/></g>
<circle cx="269.32" cy="233.04" r="2.9" stroke-width="1.7"/>
</g>
<path d="M271.8 221.4 C269.5 221.2 267.6 221.6 266 222.5 C264 223.8 262.6 225.2 261.5 227 C260.3 229 259.5 231 259.2 233 C258.9 235.2 258.8 237.2 259 239 C259.2 241.3 259.7 243.4 260.5 245 C261.5 247 263 248.5 265 249.4 C266.7 250.3 268.3 250.9 270 250.9 C271.8 250.9 273.5 250.6 275 249.9 C277 249 278.5 247.4 279.9 245.9 C281.7 244 283.3 242.2 284.9 240.4 C286.4 238.6 287.8 236.8 288.9 235 C290 233.2 290.7 231.5 290.7 230 C290.7 228.4 290.3 227 289.4 226 C288.4 224.9 287.3 224.1 285.9 223.8 C284 223.3 282 223.2 279.9 223 C278.2 222.8 276.6 222.5 275 222.2 C273.7 222 272.5 221.7 271.3 221.5" fill="none" stroke="#3a0ebb" stroke-width="3.0" stroke-linecap="round" stroke-linejoin="round"/>
<rect x="49.15" y="34.7" width="264.6" height="167.5" fill="#fff" stroke="#000" stroke-width="1.25"/>
<path d="M54.25 47.1 h16.8" stroke="#2246AF" stroke-width="1.6" fill="none"/>
<text x="78.05" y="51.2" font-size="11.76">Inflation episode (2023-10-25 – 2023-11-09)</text>
<path d="M54.25 60.1 h16.8" stroke="#2B6CBD" stroke-width="1.6" fill="none"/>
<text x="78.05" y="64.2" font-size="11.76">Inflation episode (2023-11-19 – 2023-12-17)</text>
<path d="M54.25 73.1 h16.8" stroke="#3E92C8" stroke-width="1.6" fill="none"/>
<text x="78.05" y="77.2" font-size="11.76">Inflation episode (2023-12-19 – 2024-01-13)</text>
<path d="M54.25 86.1 h16.8" stroke="#5BBAD3" stroke-width="1.6" fill="none"/>
<text x="78.05" y="90.2" font-size="11.76">Inflation episode (2024-01-15 – 2024-02-07)</text>
<path d="M54.25 99.1 h16.8" stroke="#9ADDD9" stroke-width="1.6" fill="none"/>
<text x="78.05" y="103.2" font-size="11.76">Inflation episode (2024-02-09 – 2024-03-01)</text>
<path d="M54.25 112.1 h16.8" stroke="#C2EBC8" stroke-width="1.6" fill="none"/>
<text x="78.05" y="116.2" font-size="11.76">Inflation episode (2024-03-03 – 2024-03-15)</text>
<path d="M54.25 125.1 h16.8" stroke="#D0DC8F" stroke-width="1.6" fill="none"/>
<text x="78.05" y="129.2" font-size="11.76">Inflation episode (2024-03-17 – 2024-05-28)</text>
<path d="M54.25 138.1 h16.8" stroke="#C8AE4D" stroke-width="1.6" fill="none"/>
<text x="78.05" y="142.2" font-size="11.76">Inflation episode (2024-05-30 – 2024-08-21)</text>
<path d="M54.25 151.1 h16.8" stroke="#B98C36" stroke-width="1.6" fill="none"/>
<text x="78.05" y="155.2" font-size="11.76">Inflation episode (2024-08-24 – 2024-11-19)</text>
<path d="M54.25 164.1 h16.8" stroke="#A8651F" stroke-width="1.6" fill="none"/>
<text x="78.05" y="168.2" font-size="11.76">Inflation episode (2024-11-21 – 2025-03-31)</text>
<path d="M54.25 177.1 h16.8" stroke="#E3192C" stroke-width="1.6" fill="none"/>
<text x="78.05" y="181.2" font-size="11.76">Inflation episode (2025-04-02 – 2025-06-15)</text>
<circle cx="62.55" cy="189.9" r="2.9" fill="#fff" stroke="#E3192C" stroke-width="1.7"/>
<text x="78.05" y="194.2" font-size="11.76">Latest status: 2025-06-15</text>
<rect x="364.35" y="414.7" width="102.6" height="37.8" fill="#fff" stroke="#000" stroke-width="1.25"/>
<rect x="372.25" y="422.5" width="8.8" height="8.8" fill="#fff" stroke="#000" stroke-width="1.6"/>
<path d="M376.65 434.3 L378.15 438.93 L383.02 438.93 L379.08 441.79 L380.59 446.42 L376.65 443.56 L372.71 446.42 L374.22 441.79 L370.28 438.93 L375.15 438.93 Z" fill="#fff" stroke="#000" stroke-width="1.8"/>
<text x="390.35" y="430.9" font-size="11.76">Dike intrusion</text>
<text x="390.35" y="443.9" font-size="11.76">Eruption</text>
<path d="M348.25 452.5 H480.25" fill="none" stroke="#000" stroke-width="2.2"/>
<text x="48.25" y="470.1" font-size="11.7" text-anchor="middle">0</text>
<text x="108" y="470.1" font-size="11.7" text-anchor="middle">20</text>
<text x="167.75" y="470.1" font-size="11.7" text-anchor="middle">40</text>
<text x="227.5" y="470.1" font-size="11.7" text-anchor="middle">60</text>
<text x="287.25" y="470.1" font-size="11.7" text-anchor="middle">80</text>
<text x="347" y="470.1" font-size="11.7" text-anchor="middle">100</text>
<text x="406.75" y="470.1" font-size="11.7" text-anchor="middle">120</text>
<text x="466.5" y="470.1" font-size="11.7" text-anchor="middle">140</text>
<text x="39.15" y="399.6" font-size="11.7" text-anchor="end">0</text>
<text x="39.15" y="304.6" font-size="11.7" text-anchor="end">10</text>
<text x="39.15" y="209.6" font-size="11.7" text-anchor="end">20</text>
<text x="39.15" y="114.6" font-size="11.7" text-anchor="end">30</text>
<text x="258.05" y="492.3" font-size="18.6" text-anchor="middle">Days since beginning of inflation</text>
<text transform="translate(19.05 243.4) rotate(-90)" font-size="18.6" text-anchor="middle">Magma volume [x10<tspan dy="-7" font-size="13.1">6</tspan><tspan dy="7"> m</tspan><tspan dy="-7" font-size="13.1">3</tspan><tspan dy="7">]</tspan></text>
<text x="257.55" y="19.1" font-size="20.6" font-weight="bold" text-anchor="middle">Svartsengi magma reservoir (mogi)</text>
<path d="M608 34.4 V452.5 M667.75 34.4 V452.5 M727.5 34.4 V452.5 M787.25 34.4 V452.5 M847 34.4 V452.5 M906.75 34.4 V452.5 M966.5 34.4 V452.5 M548.25 395.4 H966.5 M548.25 300.4 H966.5 M548.25 205.4 H966.5 M548.25 110.4 H966.5" fill="none" stroke="#d8d8d8" stroke-width="1" stroke-dasharray="1.4 3"/>
<path d="M548.25 452.5 v5.9 M578.12 452.5 v3.4 M608 452.5 v5.9 M637.88 452.5 v3.4 M667.75 452.5 v5.9 M697.62 452.5 v3.4 M727.5 452.5 v5.9 M757.38 452.5 v3.4 M787.25 452.5 v5.9 M817.12 452.5 v3.4 M847 452.5 v5.9 M876.88 452.5 v3.4 M906.75 452.5 v5.9 M936.62 452.5 v3.4 M966.5 452.5 v5.9 M548.85 452.4 h-3.6 M548.85 433.4 h-3.6 M548.85 414.4 h-3.6 M548.85 395.4 h-6.2 M548.85 376.4 h-3.6 M548.85 357.4 h-3.6 M548.85 338.4 h-3.6 M548.85 319.4 h-3.6 M548.85 300.4 h-6.2 M548.85 281.4 h-3.6 M548.85 262.4 h-3.6 M548.85 243.4 h-3.6 M548.85 224.4 h-3.6 M548.85 205.4 h-6.2 M548.85 186.4 h-3.6 M548.85 167.4 h-3.6 M548.85 148.4 h-3.6 M548.85 129.4 h-3.6 M548.85 110.4 h-6.2 M548.85 91.4 h-3.6 M548.85 72.4 h-3.6 M548.85 53.4 h-3.6 M548.85 34.4 h-3.6" fill="none" stroke="#000" stroke-width="1"/>
<path d="M548.55 453.6 V18 M547.45 452.5 H980.25" fill="none" stroke="#000" stroke-width="2.2"/>
<path d="M548.55 3.2 L553.45 22.6 L548.55 18.4 L543.65 22.6 Z" fill="#000"/>
<path d="M998.25 452.5 L979.05 447.5 L983.05 452.5 L979.05 457.5 Z" fill="#000"/>
<g stroke="#2246AF" fill="#fff">
<path d="M548.25 395.4 L551.24 385.9 L554.23 377.35 L557.21 370.7 L560.2 365 L563.19 360.25 L566.17 356.45 L569.16 352.65 L572.15 346.95 L575.14 337.92 L578.12 328.9 L581.11 319.12 L584.1 312.08 L587.09 304.48 L590.08 298.5 L593.06 280.45" fill="none" stroke-width="1.5" stroke-linejoin="round"/>
<g stroke-width="1.25"><circle cx="548.25" cy="395.4" r="1.75"/><circle cx="551.24" cy="385.9" r="1.75"/><circle cx="554.23" cy="377.35" r="1.75"/><circle cx="557.21" cy="370.7" r="1.75"/><circle cx="560.2" cy="365" r="1.75"/><circle cx="563.19" cy="360.25" r="1.75"/><circle cx="566.17" cy="356.45" r="1.75"/><circle cx="569.16" cy="352.65" r="1.75"/><circle cx="572.15" cy="346.95" r="1.75"/><circle cx="575.14" cy="337.92" r="1.75"/><circle cx="578.12" cy="328.9" r="1.75"/><circle cx="581.11" cy="319.12" r="1.75"/><circle cx="584.1" cy="312.08" r="1.75"/><circle cx="587.09" cy="304.48" r="1.75"/><circle cx="590.08" cy="298.5" r="1.75"/><circle cx="593.06" cy="280.45" r="1.75"/></g>
<rect x="592.05" y="267.52" width="8.6" height="8.6" stroke-width="1.7"/>
</g>
<g stroke="#2B6CBD" fill="#fff">
<path d="M548.25 395.4 L551.24 384 L554.23 374.88 L557.21 362.62 L560.2 350.18 L563.19 342.01 L566.17 333.65 L569.16 325.67 L572.15 320.06 L578.12 298.5 L581.11 294.51 L584.1 288.14 L587.09 282.25 L590.08 275.98 L593.06 270.95 L596.05 263.54 L599.04 259.55 L602.02 255.37 L605.01 247.01 L608 244.44 L610.99 237.03 L613.98 232.47 L616.96 228.2 L619.95 224.5 L622.94 222.02 L625.92 216.04 L628.91 209.67 L631.9 204.54" fill="none" stroke-width="1.5" stroke-linejoin="round"/>
<g stroke-width="1.25"><circle cx="548.25" cy="395.4" r="1.75"/><circle cx="551.24" cy="384" r="1.75"/><circle cx="554.23" cy="374.88" r="1.75"/><circle cx="557.21" cy="362.62" r="1.75"/><circle cx="560.2" cy="350.18" r="1.75"/><circle cx="563.19" cy="342.01" r="1.75"/><circle cx="566.17" cy="333.65" r="1.75"/><circle cx="569.16" cy="325.67" r="1.75"/><circle cx="572.15" cy="320.06" r="1.75"/><circle cx="578.12" cy="298.5" r="1.75"/><circle cx="581.11" cy="294.51" r="1.75"/><circle cx="584.1" cy="288.14" r="1.75"/><circle cx="587.09" cy="282.25" r="1.75"/><circle cx="590.08" cy="275.98" r="1.75"/><circle cx="593.06" cy="270.95" r="1.75"/><circle cx="596.05" cy="263.54" r="1.75"/><circle cx="599.04" cy="259.55" r="1.75"/><circle cx="602.02" cy="255.37" r="1.75"/><circle cx="605.01" cy="247.01" r="1.75"/><circle cx="608" cy="244.44" r="1.75"/><circle cx="610.99" cy="237.03" r="1.75"/><circle cx="613.98" cy="232.47" r="1.75"/><circle cx="616.96" cy="228.2" r="1.75"/><circle cx="619.95" cy="224.5" r="1.75"/><circle cx="622.94" cy="222.02" r="1.75"/><circle cx="625.92" cy="216.04" r="1.75"/><circle cx="628.91" cy="209.67" r="1.75"/><circle cx="631.9" cy="204.54" r="1.75"/></g>
<path d="M634.89 190.87 L636.28 195.16 L640.78 195.16 L637.14 197.81 L638.53 202.09 L634.89 199.44 L631.24 202.09 L632.64 197.81 L628.99 195.16 L633.5 195.16 Z" stroke-width="1.75" stroke-linejoin="miter"/>
</g>
<g stroke="#3E92C8" fill="#fff">
<path d="M548.25 395.4 L551.24 386.85 L554.23 379.25 L557.21 372.6 L560.2 366.9 L563.19 362.15 L566.17 357.4 L569.16 351.7 L572.15 348.28 L575.14 344.1 L578.12 337.83 L581.11 333.65 L584.1 329.38 L587.09 326.05 L590.08 323.67 L593.06 321.01 L596.05 315.6 L599.04 308.95 L602.02 304.39 L605.01 298.78 L608 292.32 L610.99 290.42 L613.98 288.33 L616.96 284.15 L619.95 283.96 L622.94 280.45" fill="none" stroke-width="1.5" stroke-linejoin="round"/>
<g stroke-width="1.25"><circle cx="548.25" cy="395.4" r="1.75"/><circle cx="551.24" cy="386.85" r="1.75"/><circle cx="554.23" cy="379.25" r="1.75"/><circle cx="557.21" cy="372.6" r="1.75"/><circle cx="560.2" cy="366.9" r="1.75"/><circle cx="563.19" cy="362.15" r="1.75"/><circle cx="566.17" cy="357.4" r="1.75"/><circle cx="569.16" cy="351.7" r="1.75"/><circle cx="572.15" cy="348.28" r="1.75"/><circle cx="575.14" cy="344.1" r="1.75"/><circle cx="578.12" cy="337.83" r="1.75"/><circle cx="581.11" cy="333.65" r="1.75"/><circle cx="584.1" cy="329.38" r="1.75"/><circle cx="587.09" cy="326.05" r="1.75"/><circle cx="590.08" cy="323.67" r="1.75"/><circle cx="593.06" cy="321.01" r="1.75"/><circle cx="596.05" cy="315.6" r="1.75"/><circle cx="599.04" cy="308.95" r="1.75"/><circle cx="602.02" cy="304.39" r="1.75"/><circle cx="605.01" cy="298.78" r="1.75"/><circle cx="608" cy="292.32" r="1.75"/><circle cx="610.99" cy="290.42" r="1.75"/><circle cx="613.98" cy="288.33" r="1.75"/><circle cx="616.96" cy="284.15" r="1.75"/><circle cx="619.95" cy="283.96" r="1.75"/><circle cx="622.94" cy="280.45" r="1.75"/></g>
<path d="M626.37 266.4 L627.77 270.68 L632.27 270.68 L628.63 273.33 L630.02 277.62 L626.37 274.97 L622.73 277.62 L624.12 273.33 L620.48 270.68 L624.98 270.68 Z" stroke-width="1.75" stroke-linejoin="miter"/>
</g>
<g stroke="#5BBAD3" fill="#fff">
<path d="M548.25 395.4 L551.24 387.8 L554.23 380.67 L557.21 374.5 L560.2 369.27 L563.19 364.52 L566.17 360.25 L569.16 356.45 L572.15 352.65 L575.14 348.85 L578.12 345.52 L581.11 342.2 L584.1 339.35 L587.09 336.5 L590.08 334.31 L593.06 332.22 L596.05 328.9 L599.04 325.1 L602.02 321.3 L605.01 315.03 L608 310.56 L610.99 307.05 L613.98 303.25 L616.96 300.12" fill="none" stroke-width="1.5" stroke-linejoin="round"/>
<g stroke-width="1.25"><circle cx="548.25" cy="395.4" r="1.75"/><circle cx="551.24" cy="387.8" r="1.75"/><circle cx="554.23" cy="380.67" r="1.75"/><circle cx="557.21" cy="374.5" r="1.75"/><circle cx="560.2" cy="369.27" r="1.75"/><circle cx="563.19" cy="364.52" r="1.75"/><circle cx="566.17" cy="360.25" r="1.75"/><circle cx="569.16" cy="356.45" r="1.75"/><circle cx="572.15" cy="352.65" r="1.75"/><circle cx="575.14" cy="348.85" r="1.75"/><circle cx="578.12" cy="345.52" r="1.75"/><circle cx="581.11" cy="342.2" r="1.75"/><circle cx="584.1" cy="339.35" r="1.75"/><circle cx="587.09" cy="336.5" r="1.75"/><circle cx="590.08" cy="334.31" r="1.75"/><circle cx="593.06" cy="332.22" r="1.75"/><circle cx="596.05" cy="328.9" r="1.75"/><circle cx="599.04" cy="325.1" r="1.75"/><circle cx="602.02" cy="321.3" r="1.75"/><circle cx="605.01" cy="315.03" r="1.75"/><circle cx="608" cy="310.56" r="1.75"/><circle cx="610.99" cy="307.05" r="1.75"/><circle cx="613.98" cy="303.25" r="1.75"/><circle cx="616.96" cy="300.12" r="1.75"/></g>
<path d="M620.85 287.11 L622.24 291.39 L626.74 291.39 L623.1 294.04 L624.49 298.33 L620.85 295.68 L617.2 298.33 L618.59 294.04 L614.95 291.39 L619.45 291.39 Z" stroke-width="1.75" stroke-linejoin="miter"/>
</g>
<g stroke="#9ADDD9" fill="#fff">
<path d="M548.25 395.4 L551.24 388.75 L554.23 382.1 L557.21 376.4 L560.2 371.65 L563.19 366.9 L566.17 363.1 L569.16 359.3 L572.15 355.5 L575.14 351.7 L578.12 348.38 L581.11 345.05 L584.1 342.2 L587.09 339.82 L590.08 337.45 L593.06 334.6 L596.05 331.75 L599.04 327.95 L602.02 324.15 L605.01 320.35 L608 317.02 L610.99 315.03" fill="none" stroke-width="1.5" stroke-linejoin="round"/>
<g stroke-width="1.25"><circle cx="548.25" cy="395.4" r="1.75"/><circle cx="551.24" cy="388.75" r="1.75"/><circle cx="554.23" cy="382.1" r="1.75"/><circle cx="557.21" cy="376.4" r="1.75"/><circle cx="560.2" cy="371.65" r="1.75"/><circle cx="563.19" cy="366.9" r="1.75"/><circle cx="566.17" cy="363.1" r="1.75"/><circle cx="569.16" cy="359.3" r="1.75"/><circle cx="572.15" cy="355.5" r="1.75"/><circle cx="575.14" cy="351.7" r="1.75"/><circle cx="578.12" cy="348.38" r="1.75"/><circle cx="581.11" cy="345.05" r="1.75"/><circle cx="584.1" cy="342.2" r="1.75"/><circle cx="587.09" cy="339.82" r="1.75"/><circle cx="590.08" cy="337.45" r="1.75"/><circle cx="593.06" cy="334.6" r="1.75"/><circle cx="596.05" cy="331.75" r="1.75"/><circle cx="599.04" cy="327.95" r="1.75"/><circle cx="602.02" cy="324.15" r="1.75"/><circle cx="605.01" cy="320.35" r="1.75"/><circle cx="608" cy="317.02" r="1.75"/><circle cx="610.99" cy="315.03" r="1.75"/></g>
<rect x="609.82" y="302.57" width="8.6" height="8.6" stroke-width="1.7"/>
</g>
<g stroke="#C2EBC8" fill="#fff">
<path d="M548.25 395.4 L551.24 390.65 L554.23 386.85 L557.21 384 L560.2 381.15 L563.19 377.35 L566.17 374.88 L569.16 370.7 L572.15 367.18 L575.14 363 L578.12 357.4 L581.11 355.97 L584.1 354.55" fill="none" stroke-width="1.5" stroke-linejoin="round"/>
<g stroke-width="1.25"><circle cx="548.25" cy="395.4" r="1.75"/><circle cx="551.24" cy="390.65" r="1.75"/><circle cx="554.23" cy="386.85" r="1.75"/><circle cx="557.21" cy="384" r="1.75"/><circle cx="560.2" cy="381.15" r="1.75"/><circle cx="563.19" cy="377.35" r="1.75"/><circle cx="566.17" cy="374.88" r="1.75"/><circle cx="569.16" cy="370.7" r="1.75"/><circle cx="572.15" cy="367.18" r="1.75"/><circle cx="575.14" cy="363" r="1.75"/><circle cx="578.12" cy="357.4" r="1.75"/><circle cx="581.11" cy="355.97" r="1.75"/><circle cx="584.1" cy="354.55" r="1.75"/></g>
<path d="M589.78 342.5 L591.17 346.78 L595.67 346.78 L592.03 349.43 L593.42 353.71 L589.78 351.06 L586.13 353.71 L587.52 349.43 L583.88 346.78 L588.38 346.78 Z" stroke-width="1.75" stroke-linejoin="miter"/>
</g>
<g stroke="#D0DC8F" fill="#fff">
<path d="M548.25 395.4 L551.24 393.12 L554.23 391.69 L557.21 391.12 L560.2 388.18 L563.19 389.89 L566.17 387.42 L569.16 385.61 L572.15 384.95 L575.14 384.95 L578.12 384.95 L581.11 383.14 L584.1 385.61 L587.09 383.14 L590.08 381.15 L593.06 379.25 L596.05 377.35 L599.04 374.5 L602.02 371.65 L605.01 369.16 L608 368.32 L610.99 364.73 L613.98 363.37 L616.96 359.77 L619.95 357.03 L622.94 353.6 L625.92 350.58 L628.91 347.42 L631.9 345.83 L634.89 343.62 L637.88 342.87 L640.86 341.25 L643.85 337.69 L646.84 333.65 L649.83 330.32 L652.81 331.27 L655.8 328.2 L658.79 323.67 L661.77 319.59 L664.76 315.6 L667.75 310.85 L670.74 310.13 L673.73 309.9 L676.71 307.01 L679.7 305.62 L682.69 302.68 L685.67 298.97 L688.66 295.55 L691.65 292.8 L694.64 290.12 L697.62 288.52 L700.61 284.01 L703.6 280.92 L706.59 275.89 L709.58 276.37 L712.56 270 L715.55 264.96 L718.54 260.97 L721.52 258.03 L724.51 256.03 L727.5 254.04 L730.49 250.05 L733.48 248.15 L736.46 246.06 L739.45 244.06 L742.44 242.45 L745.42 238.65 L748.41 234.47 L751.4 232.95 L754.39 231.05 L757.38 228.2 L760.36 225.35 L763.35 221.55" fill="none" stroke-width="1.5" stroke-linejoin="round"/>
<g stroke-width="1.25"><circle cx="548.25" cy="395.4" r="1.75"/><circle cx="551.24" cy="393.12" r="1.75"/><circle cx="554.23" cy="391.69" r="1.75"/><circle cx="557.21" cy="391.12" r="1.75"/><circle cx="560.2" cy="388.18" r="1.75"/><circle cx="563.19" cy="389.89" r="1.75"/><circle cx="566.17" cy="387.42" r="1.75"/><circle cx="569.16" cy="385.61" r="1.75"/><circle cx="572.15" cy="384.95" r="1.75"/><circle cx="575.14" cy="384.95" r="1.75"/><circle cx="578.12" cy="384.95" r="1.75"/><circle cx="581.11" cy="383.14" r="1.75"/><circle cx="584.1" cy="385.61" r="1.75"/><circle cx="587.09" cy="383.14" r="1.75"/><circle cx="590.08" cy="381.15" r="1.75"/><circle cx="593.06" cy="379.25" r="1.75"/><circle cx="596.05" cy="377.35" r="1.75"/><circle cx="599.04" cy="374.5" r="1.75"/><circle cx="602.02" cy="371.65" r="1.75"/><circle cx="605.01" cy="369.16" r="1.75"/><circle cx="608" cy="368.32" r="1.75"/><circle cx="610.99" cy="364.73" r="1.75"/><circle cx="613.98" cy="363.37" r="1.75"/><circle cx="616.96" cy="359.77" r="1.75"/><circle cx="619.95" cy="357.03" r="1.75"/><circle cx="622.94" cy="353.6" r="1.75"/><circle cx="625.92" cy="350.58" r="1.75"/><circle cx="628.91" cy="347.42" r="1.75"/><circle cx="631.9" cy="345.83" r="1.75"/><circle cx="634.89" cy="343.62" r="1.75"/><circle cx="637.88" cy="342.87" r="1.75"/><circle cx="640.86" cy="341.25" r="1.75"/><circle cx="643.85" cy="337.69" r="1.75"/><circle cx="646.84" cy="333.65" r="1.75"/><circle cx="649.83" cy="330.32" r="1.75"/><circle cx="652.81" cy="331.27" r="1.75"/><circle cx="655.8" cy="328.2" r="1.75"/><circle cx="658.79" cy="323.67" r="1.75"/><circle cx="661.77" cy="319.59" r="1.75"/><circle cx="664.76" cy="315.6" r="1.75"/><circle cx="667.75" cy="310.85" r="1.75"/><circle cx="670.74" cy="310.13" r="1.75"/><circle cx="673.73" cy="309.9" r="1.75"/><circle cx="676.71" cy="307.01" r="1.75"/><circle cx="679.7" cy="305.62" r="1.75"/><circle cx="682.69" cy="302.68" r="1.75"/><circle cx="685.67" cy="298.97" r="1.75"/><circle cx="688.66" cy="295.55" r="1.75"/><circle cx="691.65" cy="292.8" r="1.75"/><circle cx="694.64" cy="290.12" r="1.75"/><circle cx="697.62" cy="288.52" r="1.75"/><circle cx="700.61" cy="284.01" r="1.75"/><circle cx="703.6" cy="280.92" r="1.75"/><circle cx="706.59" cy="275.89" r="1.75"/><circle cx="709.58" cy="276.37" r="1.75"/><circle cx="712.56" cy="270" r="1.75"/><circle cx="715.55" cy="264.96" r="1.75"/><circle cx="718.54" cy="260.97" r="1.75"/><circle cx="721.52" cy="258.03" r="1.75"/><circle cx="724.51" cy="256.03" r="1.75"/><circle cx="727.5" cy="254.04" r="1.75"/><circle cx="730.49" cy="250.05" r="1.75"/><circle cx="733.48" cy="248.15" r="1.75"/><circle cx="736.46" cy="246.06" r="1.75"/><circle cx="739.45" cy="244.06" r="1.75"/><circle cx="742.44" cy="242.45" r="1.75"/><circle cx="745.42" cy="238.65" r="1.75"/><circle cx="748.41" cy="234.47" r="1.75"/><circle cx="751.4" cy="232.95" r="1.75"/><circle cx="754.39" cy="231.05" r="1.75"/><circle cx="757.38" cy="228.2" r="1.75"/><circle cx="760.36" cy="225.35" r="1.75"/><circle cx="763.35" cy="221.55" r="1.75"/></g>
<path d="M766.64 208.45 L768.03 212.73 L772.53 212.73 L768.89 215.38 L770.28 219.67 L766.64 217.02 L762.99 219.67 L764.38 215.38 L760.74 212.73 L765.24 212.73 Z" stroke-width="1.75" stroke-linejoin="miter"/>
</g>
<g stroke="#C8AE4D" fill="#fff">
<path d="M548.25 395.4 L551.24 402.43 L554.23 409.94 L557.21 414.88 L560.2 418.67 L563.19 419.91 L566.17 421.14 L569.16 421.14 L572.15 420.67 L575.14 416.11 L578.12 414.88 L581.11 414.11 L584.1 412.4 L587.09 410.69 L590.08 409.17 L593.06 405.66 L596.05 403.66 L599.04 401.67 L602.02 401.67 L605.01 399.86 L608 397.39 L610.99 393.12 L613.98 391.69 L616.96 388.65 L619.95 384.95 L622.94 381.15 L625.92 378.77 L628.91 375.45 L631.9 370.7 L634.89 365.95 L637.88 361.67 L640.86 359.14 L643.85 357.4 L646.84 355.11 L649.83 352.65 L652.81 349.5 L655.8 345.05 L658.79 341.46 L661.77 338.88 L664.76 335.08 L667.75 331.75 L670.74 327.02 L673.73 323.2 L676.71 319.13 L679.7 316.55 L682.69 315.44 L685.67 313.22 L688.66 310.19 L691.65 307.52 L694.64 305.87 L697.62 303.25 L700.61 298.88 L703.6 295.65 L706.59 290.89 L709.58 286.15 L712.56 281.65 L715.55 278.55 L718.54 277.91 L721.52 276.65 L724.51 275.82 L727.5 274.75 L730.49 272.05 L733.48 270 L736.46 266.57 L739.45 264.3 L742.44 262.63 L745.42 260.02 L748.41 257.07 L751.4 254.99 L754.39 252.88 L757.38 250.05 L760.36 248.37 L763.35 245.58 L766.34 244.07 L769.33 241.59 L772.31 239.89 L775.3 237.03 L778.29 233.53 L781.27 231.05 L784.26 228.34 L787.25 226.3 L790.24 224.4 L793.23 224.4 L796.21 224.4" fill="none" stroke-width="1.5" stroke-linejoin="round"/>
<g stroke-width="1.25"><circle cx="548.25" cy="395.4" r="1.75"/><circle cx="551.24" cy="402.43" r="1.75"/><circle cx="554.23" cy="409.94" r="1.75"/><circle cx="557.21" cy="414.88" r="1.75"/><circle cx="560.2" cy="418.67" r="1.75"/><circle cx="563.19" cy="419.91" r="1.75"/><circle cx="566.17" cy="421.14" r="1.75"/><circle cx="569.16" cy="421.14" r="1.75"/><circle cx="572.15" cy="420.67" r="1.75"/><circle cx="575.14" cy="416.11" r="1.75"/><circle cx="578.12" cy="414.88" r="1.75"/><circle cx="581.11" cy="414.11" r="1.75"/><circle cx="584.1" cy="412.4" r="1.75"/><circle cx="587.09" cy="410.69" r="1.75"/><circle cx="590.08" cy="409.17" r="1.75"/><circle cx="593.06" cy="405.66" r="1.75"/><circle cx="596.05" cy="403.66" r="1.75"/><circle cx="599.04" cy="401.67" r="1.75"/><circle cx="602.02" cy="401.67" r="1.75"/><circle cx="605.01" cy="399.86" r="1.75"/><circle cx="608" cy="397.39" r="1.75"/><circle cx="610.99" cy="393.12" r="1.75"/><circle cx="613.98" cy="391.69" r="1.75"/><circle cx="616.96" cy="388.65" r="1.75"/><circle cx="619.95" cy="384.95" r="1.75"/><circle cx="622.94" cy="381.15" r="1.75"/><circle cx="625.92" cy="378.77" r="1.75"/><circle cx="628.91" cy="375.45" r="1.75"/><circle cx="631.9" cy="370.7" r="1.75"/><circle cx="634.89" cy="365.95" r="1.75"/><circle cx="637.88" cy="361.67" r="1.75"/><circle cx="640.86" cy="359.14" r="1.75"/><circle cx="643.85" cy="357.4" r="1.75"/><circle cx="646.84" cy="355.11" r="1.75"/><circle cx="649.83" cy="352.65" r="1.75"/><circle cx="652.81" cy="349.5" r="1.75"/><circle cx="655.8" cy="345.05" r="1.75"/><circle cx="658.79" cy="341.46" r="1.75"/><circle cx="661.77" cy="338.88" r="1.75"/><circle cx="664.76" cy="335.08" r="1.75"/><circle cx="667.75" cy="331.75" r="1.75"/><circle cx="670.74" cy="327.02" r="1.75"/><circle cx="673.73" cy="323.2" r="1.75"/><circle cx="676.71" cy="319.13" r="1.75"/><circle cx="679.7" cy="316.55" r="1.75"/><circle cx="682.69" cy="315.44" r="1.75"/><circle cx="685.67" cy="313.22" r="1.75"/><circle cx="688.66" cy="310.19" r="1.75"/><circle cx="691.65" cy="307.52" r="1.75"/><circle cx="694.64" cy="305.87" r="1.75"/><circle cx="697.62" cy="303.25" r="1.75"/><circle cx="700.61" cy="298.88" r="1.75"/><circle cx="703.6" cy="295.65" r="1.75"/><circle cx="706.59" cy="290.89" r="1.75"/><circle cx="709.58" cy="286.15" r="1.75"/><circle cx="712.56" cy="281.65" r="1.75"/><circle cx="715.55" cy="278.55" r="1.75"/><circle cx="718.54" cy="277.91" r="1.75"/><circle cx="721.52" cy="276.65" r="1.75"/><circle cx="724.51" cy="275.82" r="1.75"/><circle cx="727.5" cy="274.75" r="1.75"/><circle cx="730.49" cy="272.05" r="1.75"/><circle cx="733.48" cy="270" r="1.75"/><circle cx="736.46" cy="266.57" r="1.75"/><circle cx="739.45" cy="264.3" r="1.75"/><circle cx="742.44" cy="262.63" r="1.75"/><circle cx="745.42" cy="260.02" r="1.75"/><circle cx="748.41" cy="257.07" r="1.75"/><circle cx="751.4" cy="254.99" r="1.75"/><circle cx="754.39" cy="252.88" r="1.75"/><circle cx="757.38" cy="250.05" r="1.75"/><circle cx="760.36" cy="248.37" r="1.75"/><circle cx="763.35" cy="245.58" r="1.75"/><circle cx="766.34" cy="244.07" r="1.75"/><circle cx="769.33" cy="241.59" r="1.75"/><circle cx="772.31" cy="239.89" r="1.75"/><circle cx="775.3" cy="237.03" r="1.75"/><circle cx="778.29" cy="233.53" r="1.75"/><circle cx="781.27" cy="231.05" r="1.75"/><circle cx="784.26" cy="228.34" r="1.75"/><circle cx="787.25" cy="226.3" r="1.75"/><circle cx="790.24" cy="224.4" r="1.75"/><circle cx="793.23" cy="224.4" r="1.75"/><circle cx="796.21" cy="224.4" r="1.75"/></g>
<path d="M799.5 206.07 L800.89 210.36 L805.4 210.36 L801.75 213.01 L803.14 217.29 L799.5 214.64 L795.85 217.29 L797.25 213.01 L793.6 210.36 L798.11 210.36 Z" stroke-width="1.75" stroke-linejoin="miter"/>
</g>
<g stroke="#B98C36" fill="#fff">
<path d="M548.25 395.4 L551.24 401.1 L554.23 406.61 L557.21 408.6 L560.2 411.93 L563.19 411.93 L566.17 411.93 L569.16 409.94 L572.15 409.94 L575.14 409.94 L578.12 408.6 L581.11 406.13 L584.1 393.12 L587.09 398.15 L590.08 396.16 L593.06 394.16 L596.05 391.69 L599.04 389.89 L602.02 383.14 L605.01 380.2 L608 376.88 L610.99 374.02 L613.98 370.43 L616.96 367.85 L619.95 364.23 L622.94 362.15 L625.92 359.4 L628.91 356.92 L631.9 353.54 L634.89 349.32 L637.88 346.27 L640.86 344.1 L643.85 342.65 L646.84 340.77 L649.83 337.41 L652.81 335.07 L655.8 332.83 L658.79 330.04 L661.77 327.4 L664.76 325 L667.75 322.04 L670.74 320.06 L673.73 318.37 L676.71 315.03 L679.7 313.85 L682.69 312.08 L685.67 309.27 L688.66 306.1 L691.65 303.93 L694.64 301.06 L697.62 298.12 L700.61 296.6 L703.6 292.8 L706.59 289.12 L709.58 283.96 L712.56 280.54 L715.55 276.93 L718.54 276.79 L721.52 275.98 L724.51 276.09 L727.5 274.94 L730.49 273.13 L733.48 270 L736.46 266.34 L739.45 264.01 L742.44 262.24 L745.42 260.02 L748.41 256.79 L751.4 254.99 L754.39 252.74 L757.38 250.05 L760.36 248.1 L763.35 245.58 L766.34 244.13 L769.33 241.59 L772.31 240.03 L775.3 237.03 L778.29 234.88 L781.27 231.05 L784.26 227.6 L787.25 225.06 L790.24 224.4 L793.23 224.4 L796.21 224.4 L799.2 220.12 L802.19 220.12 L805.17 222.12 L808.16 218.13" fill="none" stroke-width="1.5" stroke-linejoin="round"/>
<g stroke-width="1.25"><circle cx="548.25" cy="395.4" r="1.75"/><circle cx="551.24" cy="401.1" r="1.75"/><circle cx="554.23" cy="406.61" r="1.75"/><circle cx="557.21" cy="408.6" r="1.75"/><circle cx="560.2" cy="411.93" r="1.75"/><circle cx="563.19" cy="411.93" r="1.75"/><circle cx="566.17" cy="411.93" r="1.75"/><circle cx="569.16" cy="409.94" r="1.75"/><circle cx="572.15" cy="409.94" r="1.75"/><circle cx="575.14" cy="409.94" r="1.75"/><circle cx="578.12" cy="408.6" r="1.75"/><circle cx="581.11" cy="406.13" r="1.75"/><circle cx="584.1" cy="393.12" r="1.75"/><circle cx="587.09" cy="398.15" r="1.75"/><circle cx="590.08" cy="396.16" r="1.75"/><circle cx="593.06" cy="394.16" r="1.75"/><circle cx="596.05" cy="391.69" r="1.75"/><circle cx="599.04" cy="389.89" r="1.75"/><circle cx="602.02" cy="383.14" r="1.75"/><circle cx="605.01" cy="380.2" r="1.75"/><circle cx="608" cy="376.88" r="1.75"/><circle cx="610.99" cy="374.02" r="1.75"/><circle cx="613.98" cy="370.43" r="1.75"/><circle cx="616.96" cy="367.85" r="1.75"/><circle cx="619.95" cy="364.23" r="1.75"/><circle cx="622.94" cy="362.15" r="1.75"/><circle cx="625.92" cy="359.4" r="1.75"/><circle cx="628.91" cy="356.92" r="1.75"/><circle cx="631.9" cy="353.54" r="1.75"/><circle cx="634.89" cy="349.32" r="1.75"/><circle cx="637.88" cy="346.27" r="1.75"/><circle cx="640.86" cy="344.1" r="1.75"/><circle cx="643.85" cy="342.65" r="1.75"/><circle cx="646.84" cy="340.77" r="1.75"/><circle cx="649.83" cy="337.41" r="1.75"/><circle cx="652.81" cy="335.07" r="1.75"/><circle cx="655.8" cy="332.83" r="1.75"/><circle cx="658.79" cy="330.04" r="1.75"/><circle cx="661.77" cy="327.4" r="1.75"/><circle cx="664.76" cy="325" r="1.75"/><circle cx="667.75" cy="322.04" r="1.75"/><circle cx="670.74" cy="320.06" r="1.75"/><circle cx="673.73" cy="318.37" r="1.75"/><circle cx="676.71" cy="315.03" r="1.75"/><circle cx="679.7" cy="313.85" r="1.75"/><circle cx="682.69" cy="312.08" r="1.75"/><circle cx="685.67" cy="309.27" r="1.75"/><circle cx="688.66" cy="306.1" r="1.75"/><circle cx="691.65" cy="303.93" r="1.75"/><circle cx="694.64" cy="301.06" r="1.75"/><circle cx="697.62" cy="298.12" r="1.75"/><circle cx="700.61" cy="296.6" r="1.75"/><circle cx="703.6" cy="292.8" r="1.75"/><circle cx="706.59" cy="289.12" r="1.75"/><circle cx="709.58" cy="283.96" r="1.75"/><circle cx="712.56" cy="280.54" r="1.75"/><circle cx="715.55" cy="276.93" r="1.75"/><circle cx="718.54" cy="276.79" r="1.75"/><circle cx="721.52" cy="275.98" r="1.75"/><circle cx="724.51" cy="276.09" r="1.75"/><circle cx="727.5" cy="274.94" r="1.75"/><circle cx="730.49" cy="273.13" r="1.75"/><circle cx="733.48" cy="270" r="1.75"/><circle cx="736.46" cy="266.34" r="1.75"/><circle cx="739.45" cy="264.01" r="1.75"/><circle cx="742.44" cy="262.24" r="1.75"/><circle cx="745.42" cy="260.02" r="1.75"/><circle cx="748.41" cy="256.79" r="1.75"/><circle cx="751.4" cy="254.99" r="1.75"/><circle cx="754.39" cy="252.74" r="1.75"/><circle cx="757.38" cy="250.05" r="1.75"/><circle cx="760.36" cy="248.1" r="1.75"/><circle cx="763.35" cy="245.58" r="1.75"/><circle cx="766.34" cy="244.13" r="1.75"/><circle cx="769.33" cy="241.59" r="1.75"/><circle cx="772.31" cy="240.03" r="1.75"/><circle cx="775.3" cy="237.03" r="1.75"/><circle cx="778.29" cy="234.88" r="1.75"/><circle cx="781.27" cy="231.05" r="1.75"/><circle cx="784.26" cy="227.6" r="1.75"/><circle cx="787.25" cy="225.06" r="1.75"/><circle cx="790.24" cy="224.4" r="1.75"/><circle cx="793.23" cy="224.4" r="1.75"/><circle cx="796.21" cy="224.4" r="1.75"/><circle cx="799.2" cy="220.12" r="1.75"/><circle cx="802.19" cy="220.12" r="1.75"/><circle cx="805.17" cy="222.12" r="1.75"/><circle cx="808.16" cy="218.13" r="1.75"/></g>
<path d="M811.93 204.36 L813.32 208.65 L817.82 208.65 L814.18 211.3 L815.57 215.58 L811.93 212.93 L808.28 215.58 L809.67 211.3 L806.03 208.65 L810.53 208.65 Z" stroke-width="1.75" stroke-linejoin="miter"/>
</g>
<g stroke="#A8651F" fill="#fff">
<path d="M548.25 395.4 L551.24 424.85 L554.23 436.91 L557.21 447.94 L560.2 441.66 L563.19 441.19 L566.17 441.19 L569.16 439.1 L572.15 439.1 L575.14 436.91 L578.12 436.91 L581.11 434.92 L584.1 433.12 L587.09 431.12 L590.08 428.65 L593.06 423.62 L596.05 421.14 L599.04 417.44 L602.02 418.67 L605.01 414.11 L608 411.17 L610.99 408.6 L613.98 405.66 L616.96 403.19 L619.95 401.1 L622.94 398.63 L625.92 394.92 L628.91 393.12 L631.9 391.12 L634.89 388.65 L637.88 386.66 L640.86 383.14 L643.85 383.14 L646.84 381.15 L649.83 378.77 L652.81 376.4 L655.8 375.45 L658.79 374.5 L661.77 373.07 L664.76 370.89 L667.75 368.32 L670.74 365 L673.73 362.62 L676.71 359.96 L679.7 357.4 L682.69 354.93 L685.67 353.6 L688.66 351.98 L691.65 350.94 L694.64 346.95 L697.62 344 L700.61 341.53 L703.6 340.01 L706.59 339.54 L709.58 335.55 L712.56 335.55 L715.55 338.02 L718.54 338.02 L721.52 331.56 L724.51 329 L727.5 324.43 L730.49 323.01 L733.48 323.01 L736.46 321.58 L739.45 321.58 L742.44 317.59 L745.42 315.03 L748.41 315.03 L751.4 311.04 L754.39 308.47 L757.38 311.04 L760.36 307.05 L763.35 300.5 L766.34 300.5 L769.33 300.5 L772.31 302.49 L775.3 315.41 L778.29 299.07 L781.27 296.69 L784.26 296.12 L787.25 291.66 L790.24 290.14 L793.23 294.51 L796.21 296.69 L799.2 292.13 L802.19 290.14 L805.17 288.52 L808.16 286.53 L811.15 284.53 L814.14 282.54 L817.12 278.17 L820.11 278.17 L823.1 276.55 L826.09 275.7 L829.08 273.7 L832.06 273.32 L835.05 271.9 L838.04 271.9 L841.02 270 L844.01 268 L847 265.53 L849.99 263.54 L852.97 263.54 L855.96 264.01 L858.95 259.55 L861.94 259.55 L864.92 259.55 L867.91 257.65 L870.9 253.56 L873.89 252.99 L876.88 253.56 L879.86 255.56 L882.85 252.99 L885.84 251 L888.83 247.01 L891.81 251 L894.8 249 L897.79 247.01 L900.77 247.01 L903.76 247.01 L906.75 243.02 L909.74 241.02 L912.72 238.65 L915.71 237.03 L918.7 237.03 L921.69 237.03 L924.67 235.04 L927.66 232.47 L930.65 234.47 L933.64 232.47 L936.62 228.48" fill="none" stroke-width="1.5" stroke-linejoin="round"/>
<g stroke-width="1.25"><circle cx="548.25" cy="395.4" r="1.75"/><circle cx="551.24" cy="424.85" r="1.75"/><circle cx="554.23" cy="436.91" r="1.75"/><circle cx="557.21" cy="447.94" r="1.75"/><circle cx="560.2" cy="441.66" r="1.75"/><circle cx="563.19" cy="441.19" r="1.75"/><circle cx="566.17" cy="441.19" r="1.75"/><circle cx="569.16" cy="439.1" r="1.75"/><circle cx="572.15" cy="439.1" r="1.75"/><circle cx="575.14" cy="436.91" r="1.75"/><circle cx="578.12" cy="436.91" r="1.75"/><circle cx="581.11" cy="434.92" r="1.75"/><circle cx="584.1" cy="433.12" r="1.75"/><circle cx="587.09" cy="431.12" r="1.75"/><circle cx="590.08" cy="428.65" r="1.75"/><circle cx="593.06" cy="423.62" r="1.75"/><circle cx="596.05" cy="421.14" r="1.75"/><circle cx="599.04" cy="417.44" r="1.75"/><circle cx="602.02" cy="418.67" r="1.75"/><circle cx="605.01" cy="414.11" r="1.75"/><circle cx="608" cy="411.17" r="1.75"/><circle cx="610.99" cy="408.6" r="1.75"/><circle cx="613.98" cy="405.66" r="1.75"/><circle cx="616.96" cy="403.19" r="1.75"/><circle cx="619.95" cy="401.1" r="1.75"/><circle cx="622.94" cy="398.63" r="1.75"/><circle cx="625.92" cy="394.92" r="1.75"/><circle cx="628.91" cy="393.12" r="1.75"/><circle cx="631.9" cy="391.12" r="1.75"/><circle cx="634.89" cy="388.65" r="1.75"/><circle cx="637.88" cy="386.66" r="1.75"/><circle cx="640.86" cy="383.14" r="1.75"/><circle cx="643.85" cy="383.14" r="1.75"/><circle cx="646.84" cy="381.15" r="1.75"/><circle cx="649.83" cy="378.77" r="1.75"/><circle cx="652.81" cy="376.4" r="1.75"/><circle cx="655.8" cy="375.45" r="1.75"/><circle cx="658.79" cy="374.5" r="1.75"/><circle cx="661.77" cy="373.07" r="1.75"/><circle cx="664.76" cy="370.89" r="1.75"/><circle cx="667.75" cy="368.32" r="1.75"/><circle cx="670.74" cy="365" r="1.75"/><circle cx="673.73" cy="362.62" r="1.75"/><circle cx="676.71" cy="359.96" r="1.75"/><circle cx="679.7" cy="357.4" r="1.75"/><circle cx="682.69" cy="354.93" r="1.75"/><circle cx="685.67" cy="353.6" r="1.75"/><circle cx="688.66" cy="351.98" r="1.75"/><circle cx="691.65" cy="350.94" r="1.75"/><circle cx="694.64" cy="346.95" r="1.75"/><circle cx="697.62" cy="344" r="1.75"/><circle cx="700.61" cy="341.53" r="1.75"/><circle cx="703.6" cy="340.01" r="1.75"/><circle cx="706.59" cy="339.54" r="1.75"/><circle cx="709.58" cy="335.55" r="1.75"/><circle cx="712.56" cy="335.55" r="1.75"/><circle cx="715.55" cy="338.02" r="1.75"/><circle cx="718.54" cy="338.02" r="1.75"/><circle cx="721.52" cy="331.56" r="1.75"/><circle cx="724.51" cy="329" r="1.75"/><circle cx="727.5" cy="324.43" r="1.75"/><circle cx="730.49" cy="323.01" r="1.75"/><circle cx="733.48" cy="323.01" r="1.75"/><circle cx="736.46" cy="321.58" r="1.75"/><circle cx="739.45" cy="321.58" r="1.75"/><circle cx="742.44" cy="317.59" r="1.75"/><circle cx="745.42" cy="315.03" r="1.75"/><circle cx="748.41" cy="315.03" r="1.75"/><circle cx="751.4" cy="311.04" r="1.75"/><circle cx="754.39" cy="308.47" r="1.75"/><circle cx="757.38" cy="311.04" r="1.75"/><circle cx="760.36" cy="307.05" r="1.75"/><circle cx="763.35" cy="300.5" r="1.75"/><circle cx="766.34" cy="300.5" r="1.75"/><circle cx="769.33" cy="300.5" r="1.75"/><circle cx="772.31" cy="302.49" r="1.75"/><circle cx="775.3" cy="315.41" r="1.75"/><circle cx="778.29" cy="299.07" r="1.75"/><circle cx="781.27" cy="296.69" r="1.75"/><circle cx="784.26" cy="296.12" r="1.75"/><circle cx="787.25" cy="291.66" r="1.75"/><circle cx="790.24" cy="290.14" r="1.75"/><circle cx="793.23" cy="294.51" r="1.75"/><circle cx="796.21" cy="296.69" r="1.75"/><circle cx="799.2" cy="292.13" r="1.75"/><circle cx="802.19" cy="290.14" r="1.75"/><circle cx="805.17" cy="288.52" r="1.75"/><circle cx="808.16" cy="286.53" r="1.75"/><circle cx="811.15" cy="284.53" r="1.75"/><circle cx="814.14" cy="282.54" r="1.75"/><circle cx="817.12" cy="278.17" r="1.75"/><circle cx="820.11" cy="278.17" r="1.75"/><circle cx="823.1" cy="276.55" r="1.75"/><circle cx="826.09" cy="275.7" r="1.75"/><circle cx="829.08" cy="273.7" r="1.75"/><circle cx="832.06" cy="273.32" r="1.75"/><circle cx="835.05" cy="271.9" r="1.75"/><circle cx="838.04" cy="271.9" r="1.75"/><circle cx="841.02" cy="270" r="1.75"/><circle cx="844.01" cy="268" r="1.75"/><circle cx="847" cy="265.53" r="1.75"/><circle cx="849.99" cy="263.54" r="1.75"/><circle cx="852.97" cy="263.54" r="1.75"/><circle cx="855.96" cy="264.01" r="1.75"/><circle cx="858.95" cy="259.55" r="1.75"/><circle cx="861.94" cy="259.55" r="1.75"/><circle cx="864.92" cy="259.55" r="1.75"/><circle cx="867.91" cy="257.65" r="1.75"/><circle cx="870.9" cy="253.56" r="1.75"/><circle cx="873.89" cy="252.99" r="1.75"/><circle cx="876.88" cy="253.56" r="1.75"/><circle cx="879.86" cy="255.56" r="1.75"/><circle cx="882.85" cy="252.99" r="1.75"/><circle cx="885.84" cy="251" r="1.75"/><circle cx="888.83" cy="247.01" r="1.75"/><circle cx="891.81" cy="251" r="1.75"/><circle cx="894.8" cy="249" r="1.75"/><circle cx="897.79" cy="247.01" r="1.75"/><circle cx="900.77" cy="247.01" r="1.75"/><circle cx="903.76" cy="247.01" r="1.75"/><circle cx="906.75" cy="243.02" r="1.75"/><circle cx="909.74" cy="241.02" r="1.75"/><circle cx="912.72" cy="238.65" r="1.75"/><circle cx="915.71" cy="237.03" r="1.75"/><circle cx="918.7" cy="237.03" r="1.75"/><circle cx="921.69" cy="237.03" r="1.75"/><circle cx="924.67" cy="235.04" r="1.75"/><circle cx="927.66" cy="232.47" r="1.75"/><circle cx="930.65" cy="234.47" r="1.75"/><circle cx="933.64" cy="232.47" r="1.75"/><circle cx="936.62" cy="228.48" r="1.75"/></g>
<path d="M939.73 214.62 L941.12 218.91 L945.63 218.91 L941.98 221.56 L943.38 225.84 L939.73 223.19 L936.09 225.84 L937.48 221.56 L933.84 218.91 L938.34 218.91 Z" stroke-width="1.75" stroke-linejoin="miter"/>
</g>
<g stroke="#E3192C" fill="#fff">
<path d="M548.25 395.4 L551.24 385.33 L554.23 377.35 L557.21 373.07 L560.2 367.56 L563.19 364.71 L566.17 360.53 L569.16 354.74 L572.15 356.26 L575.14 352.17 L578.12 349.32 L581.11 345.71 L584.1 343.91 L587.09 341.82 L590.08 340.11 L593.06 339.06 L596.05 337.92 L599.04 336.5 L602.02 331.65 L605.01 329 L608 325.67 L610.99 325.67 L613.98 323.01 L616.96 321.01 L619.95 319.02 L622.94 317.02 L625.92 315.69 L628.91 313.03 L631.9 311.04 L634.89 309.04 L637.88 306.1 L640.86 304.48 L643.85 307.05 L646.84 297.07 L649.83 292.51 L652.81 289.95 L655.8 289 L658.79 287.76 L661.77 286.15 L664.76 284.25 L667.75 282.06 L670.74 282.06 L673.73 286.15 L676.71 286.15 L679.7 284.25 L682.69 281.02 L685.67 271.52 L688.66 267.91 L691.65 265.53 L694.64 263.35 L697.62 260.97 L700.61 267.91 L703.6 265.53 L706.59 256.99 L709.58 253.56 L712.56 252.99 L715.55 250.05 L718.54 249 L721.52 248.62 L724.51 247.01 L727.5 243.02 L730.49 249 L733.48 252.99 L736.46 257.55 L739.45 254.42 L742.44 245.01 L745.42 242.45 L748.41 242.45 L751.4 241.97 L754.39 240.74 L757.38 238.17 L760.36 238.65 L763.35 244.82 L766.34 242.64 L769.33 236.56" fill="none" stroke-width="1.5" stroke-linejoin="round"/>
<g stroke-width="1.25"><circle cx="548.25" cy="395.4" r="1.75"/><circle cx="551.24" cy="385.33" r="1.75"/><circle cx="554.23" cy="377.35" r="1.75"/><circle cx="557.21" cy="373.07" r="1.75"/><circle cx="560.2" cy="367.56" r="1.75"/><circle cx="563.19" cy="364.71" r="1.75"/><circle cx="566.17" cy="360.53" r="1.75"/><circle cx="569.16" cy="354.74" r="1.75"/><circle cx="572.15" cy="356.26" r="1.75"/><circle cx="575.14" cy="352.17" r="1.75"/><circle cx="578.12" cy="349.32" r="1.75"/><circle cx="581.11" cy="345.71" r="1.75"/><circle cx="584.1" cy="343.91" r="1.75"/><circle cx="587.09" cy="341.82" r="1.75"/><circle cx="590.08" cy="340.11" r="1.75"/><circle cx="593.06" cy="339.06" r="1.75"/><circle cx="596.05" cy="337.92" r="1.75"/><circle cx="599.04" cy="336.5" r="1.75"/><circle cx="602.02" cy="331.65" r="1.75"/><circle cx="605.01" cy="329" r="1.75"/><circle cx="608" cy="325.67" r="1.75"/><circle cx="610.99" cy="325.67" r="1.75"/><circle cx="613.98" cy="323.01" r="1.75"/><circle cx="616.96" cy="321.01" r="1.75"/><circle cx="619.95" cy="319.02" r="1.75"/><circle cx="622.94" cy="317.02" r="1.75"/><circle cx="625.92" cy="315.69" r="1.75"/><circle cx="628.91" cy="313.03" r="1.75"/><circle cx="631.9" cy="311.04" r="1.75"/><circle cx="634.89" cy="309.04" r="1.75"/><circle cx="637.88" cy="306.1" r="1.75"/><circle cx="640.86" cy="304.48" r="1.75"/><circle cx="643.85" cy="307.05" r="1.75"/><circle cx="646.84" cy="297.07" r="1.75"/><circle cx="649.83" cy="292.51" r="1.75"/><circle cx="652.81" cy="289.95" r="1.75"/><circle cx="655.8" cy="289" r="1.75"/><circle cx="658.79" cy="287.76" r="1.75"/><circle cx="661.77" cy="286.15" r="1.75"/><circle cx="664.76" cy="284.25" r="1.75"/><circle cx="667.75" cy="282.06" r="1.75"/><circle cx="670.74" cy="282.06" r="1.75"/><circle cx="673.73" cy="286.15" r="1.75"/><circle cx="676.71" cy="286.15" r="1.75"/><circle cx="679.7" cy="284.25" r="1.75"/><circle cx="682.69" cy="281.02" r="1.75"/><circle cx="685.67" cy="271.52" r="1.75"/><circle cx="688.66" cy="267.91" r="1.75"/><circle cx="691.65" cy="265.53" r="1.75"/><circle cx="694.64" cy="263.35" r="1.75"/><circle cx="697.62" cy="260.97" r="1.75"/><circle cx="700.61" cy="267.91" r="1.75"/><circle cx="703.6" cy="265.53" r="1.75"/><circle cx="706.59" cy="256.99" r="1.75"/><circle cx="709.58" cy="253.56" r="1.75"/><circle cx="712.56" cy="252.99" r="1.75"/><circle cx="715.55" cy="250.05" r="1.75"/><circle cx="718.54" cy="249" r="1.75"/><circle cx="721.52" cy="248.62" r="1.75"/><circle cx="724.51" cy="247.01" r="1.75"/><circle cx="727.5" cy="243.02" r="1.75"/><circle cx="730.49" cy="249" r="1.75"/><circle cx="733.48" cy="252.99" r="1.75"/><circle cx="736.46" cy="257.55" r="1.75"/><circle cx="739.45" cy="254.42" r="1.75"/><circle cx="742.44" cy="245.01" r="1.75"/><circle cx="745.42" cy="242.45" r="1.75"/><circle cx="748.41" cy="242.45" r="1.75"/><circle cx="751.4" cy="241.97" r="1.75"/><circle cx="754.39" cy="240.74" r="1.75"/><circle cx="757.38" cy="238.17" r="1.75"/><circle cx="760.36" cy="238.65" r="1.75"/><circle cx="763.35" cy="244.82" r="1.75"/><circle cx="766.34" cy="242.64" r="1.75"/><circle cx="769.33" cy="236.56" r="1.75"/></g>
<circle cx="769.33" cy="236.56" r="2.9" stroke-width="1.7"/>
</g>
<path d="M764 225.5 C762.5 225.2 761.2 225.4 760 226 C758.6 226.7 757.5 227.7 756.5 229 C755.2 230.6 754.2 232.3 753.5 234 C752.7 235.8 752 237.4 752 239 C752 241.2 752.5 243.3 753.5 245 C754.6 246.8 756.2 248.1 758 249 C759.9 249.9 761.9 250.4 764 250.4 C766.1 250.4 768.1 249.9 770 249 C772.2 247.9 774.2 246.2 776 244.4 C777.8 242.6 779.5 240.8 781 239 C782.6 237 784 235 785 233 C786 231 787 229 787 227 C787 225 786.5 223.3 785.4 222 C784.2 220.6 782.8 219.6 781 219 C779.1 218.4 777 218.1 775 218 C772.3 217.9 769.7 218 767 218.2 C764.6 218.4 762.2 218.4 760 218.8 C758.5 219.1 757.3 219.9 756.5 221 C755.6 222.2 755 223.5 754.5 225 C754 226.6 753.6 228.3 753.3 230" fill="none" stroke="#3a0ebb" stroke-width="3.4" stroke-linecap="round" stroke-linejoin="round"/>
<rect x="549.15" y="34.7" width="264.6" height="167.5" fill="#fff" stroke="#000" stroke-width="1.25"/>
<path d="M554.25 47.1 h16.8" stroke="#2246AF" stroke-width="1.6" fill="none"/>
<text x="578.05" y="51.2" font-size="11.76">Inflation episode (2023-10-25 – 2023-11-09)</text>
<path d="M554.25 60.1 h16.8" stroke="#2B6CBD" stroke-width="1.6" fill="none"/>
<text x="578.05" y="64.2" font-size="11.76">Inflation episode (2023-11-19 – 2023-12-17)</text>
<path d="M554.25 73.1 h16.8" stroke="#3E92C8" stroke-width="1.6" fill="none"/>
<text x="578.05" y="77.2" font-size="11.76">Inflation episode (2023-12-19 – 2024-01-13)</text>
<path d="M554.25 86.1 h16.8" stroke="#5BBAD3" stroke-width="1.6" fill="none"/>
<text x="578.05" y="90.2" font-size="11.76">Inflation episode (2024-01-15 – 2024-02-07)</text>
<path d="M554.25 99.1 h16.8" stroke="#9ADDD9" stroke-width="1.6" fill="none"/>
<text x="578.05" y="103.2" font-size="11.76">Inflation episode (2024-02-09 – 2024-03-01)</text>
<path d="M554.25 112.1 h16.8" stroke="#C2EBC8" stroke-width="1.6" fill="none"/>
<text x="578.05" y="116.2" font-size="11.76">Inflation episode (2024-03-03 – 2024-03-15)</text>
<path d="M554.25 125.1 h16.8" stroke="#D0DC8F" stroke-width="1.6" fill="none"/>
<text x="578.05" y="129.2" font-size="11.76">Inflation episode (2024-03-17 – 2024-05-28)</text>
<path d="M554.25 138.1 h16.8" stroke="#C8AE4D" stroke-width="1.6" fill="none"/>
<text x="578.05" y="142.2" font-size="11.76">Inflation episode (2024-05-30 – 2024-08-21)</text>
<path d="M554.25 151.1 h16.8" stroke="#B98C36" stroke-width="1.6" fill="none"/>
<text x="578.05" y="155.2" font-size="11.76">Inflation episode (2024-08-24 – 2024-11-19)</text>
<path d="M554.25 164.1 h16.8" stroke="#A8651F" stroke-width="1.6" fill="none"/>
<text x="578.05" y="168.2" font-size="11.76">Inflation episode (2024-11-21 – 2025-03-31)</text>
<path d="M554.25 177.1 h16.8" stroke="#E3192C" stroke-width="1.6" fill="none"/>
<text x="578.05" y="181.2" font-size="11.76">Inflation episode (2025-04-02 – 2025-06-15)</text>
<circle cx="562.55" cy="189.9" r="2.9" fill="#fff" stroke="#E3192C" stroke-width="1.7"/>
<text x="578.05" y="194.2" font-size="11.76">Latest status: 2025-06-15</text>
<rect x="864.35" y="414.7" width="102.6" height="37.8" fill="#fff" stroke="#000" stroke-width="1.25"/>
<rect x="872.25" y="422.5" width="8.8" height="8.8" fill="#fff" stroke="#000" stroke-width="1.6"/>
<path d="M876.65 434.3 L878.15 438.93 L883.02 438.93 L879.08 441.79 L880.59 446.42 L876.65 443.56 L872.71 446.42 L874.22 441.79 L870.28 438.93 L875.15 438.93 Z" fill="#fff" stroke="#000" stroke-width="1.8"/>
<text x="890.35" y="430.9" font-size="11.76">Dike intrusion</text>
<text x="890.35" y="443.9" font-size="11.76">Eruption</text>
<path d="M848.25 452.5 H980.25" fill="none" stroke="#000" stroke-width="2.2"/>
<text x="548.25" y="470.1" font-size="11.7" text-anchor="middle">0</text>
<text x="608" y="470.1" font-size="11.7" text-anchor="middle">20</text>
<text x="667.75" y="470.1" font-size="11.7" text-anchor="middle">40</text>
<text x="727.5" y="470.1" font-size="11.7" text-anchor="middle">60</text>
<text x="787.25" y="470.1" font-size="11.7" text-anchor="middle">80</text>
<text x="847" y="470.1" font-size="11.7" text-anchor="middle">100</text>
<text x="906.75" y="470.1" font-size="11.7" text-anchor="middle">120</text>
<text x="966.5" y="470.1" font-size="11.7" text-anchor="middle">140</text>
<text x="539.15" y="399.6" font-size="11.7" text-anchor="end">0</text>
<text x="539.15" y="304.6" font-size="11.7" text-anchor="end">10</text>
<text x="539.15" y="209.6" font-size="11.7" text-anchor="end">20</text>
<text x="539.15" y="114.6" font-size="11.7" text-anchor="end">30</text>
<text x="758.05" y="492.3" font-size="18.6" text-anchor="middle">Days since beginning of inflation</text>
<text transform="translate(519.05 243.4) rotate(-90)" font-size="18.6" text-anchor="middle">Magma volume [x10<tspan dy="-7" font-size="13.1">6</tspan><tspan dy="7"> m</tspan><tspan dy="-7" font-size="13.1">3</tspan><tspan dy="7">]</tspan></text>
<text x="757.55" y="19.1" font-size="20.6" font-weight="bold" text-anchor="middle">Svartsengi magma reservoir (sill)</text>
<rect x="0" y="0" width="1000" height="2.8" fill="#0c0c0c"/>
<rect x="0" y="498" width="1000" height="3" fill="#0c0c0c"/>
</svg>
</body></html>
